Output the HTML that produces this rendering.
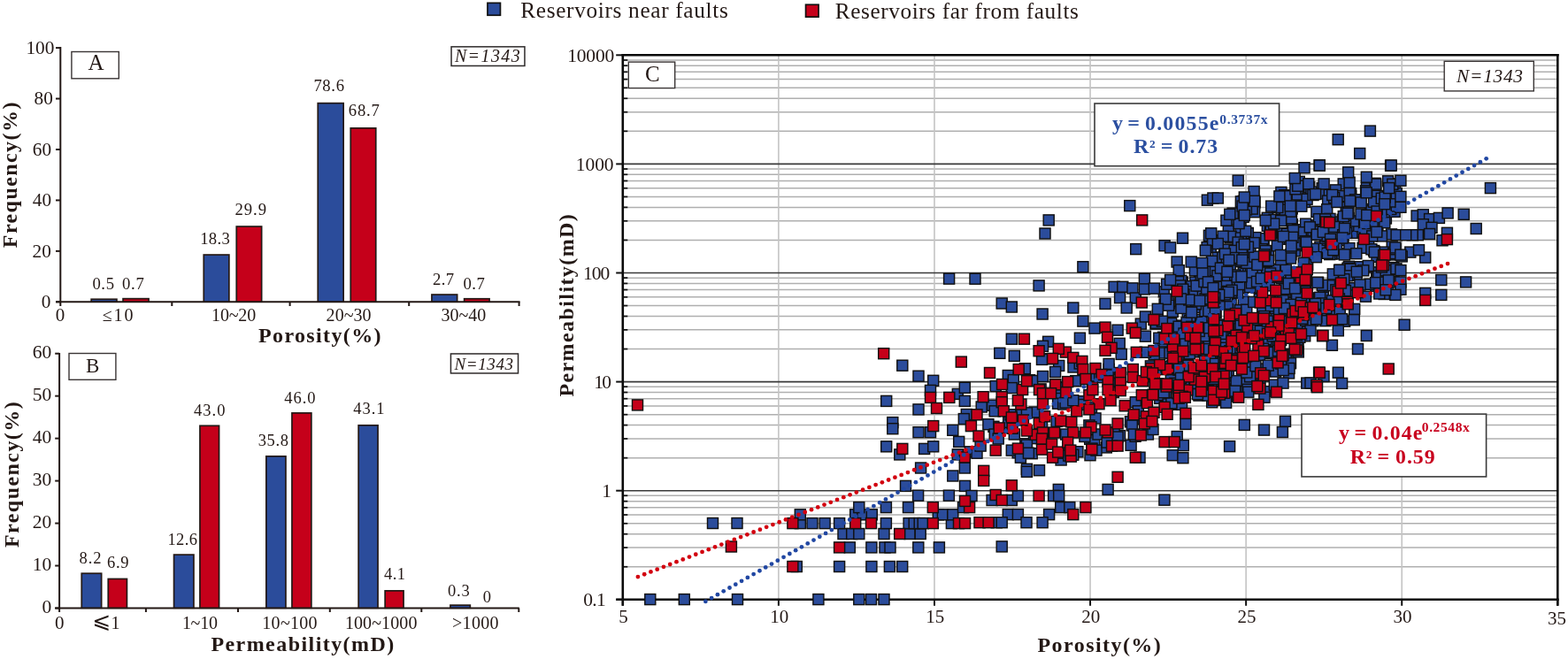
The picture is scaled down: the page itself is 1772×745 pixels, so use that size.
<!DOCTYPE html>
<html><head><meta charset="utf-8"><style>
html,body{margin:0;padding:0;background:#fff;width:1772px;height:745px;overflow:hidden}
svg{display:block}
text{font-family:"Liberation Serif",serif}
</style></head><body>
<svg width="1772" height="745" viewBox="0 0 1772 745">
<rect width="1772" height="745" fill="#fff"/><g fill="#231815">
<rect x="550.95" y="3.35" width="14.50" height="13.90" fill="#2b4c9b" stroke="#111" stroke-width="1.7"/>
<text x="588.30" y="19.75" font-size="25.3" letter-spacing="0.66">Reservoirs near faults</text>
<rect x="910.55" y="5.25" width="14.50" height="13.90" fill="#c5001a" stroke="#111" stroke-width="1.7"/>
<text x="943.80" y="20.50" font-size="25.3" letter-spacing="0.58">Reservoirs far from faults</text>
<line x1="68.30" y1="53.10" x2="68.30" y2="346.00" stroke="#231815" stroke-width="2"/>
<line x1="63.00" y1="341.30" x2="587.60" y2="341.30" stroke="#231815" stroke-width="2"/>
<line x1="63.00" y1="341.30" x2="68.30" y2="341.30" stroke="#231815" stroke-width="2"/>
<text x="46.71" y="348.00" font-size="21.3">0</text>
<line x1="63.00" y1="283.86" x2="68.30" y2="283.86" stroke="#231815" stroke-width="2"/>
<text x="36.59" y="290.56" font-size="21.3">20</text>
<line x1="63.00" y1="226.42" x2="68.30" y2="226.42" stroke="#231815" stroke-width="2"/>
<text x="36.79" y="233.12" font-size="21.3">40</text>
<line x1="63.00" y1="168.98" x2="68.30" y2="168.98" stroke="#231815" stroke-width="2"/>
<text x="36.79" y="175.68" font-size="21.3">60</text>
<line x1="63.00" y1="111.54" x2="68.30" y2="111.54" stroke="#231815" stroke-width="2"/>
<text x="38.49" y="118.24" font-size="21.3">80</text>
<line x1="63.00" y1="54.10" x2="68.30" y2="54.10" stroke="#231815" stroke-width="2"/>
<text x="29.40" y="60.80" font-size="21.3">100</text>
<line x1="194.30" y1="341.30" x2="194.30" y2="346.00" stroke="#231815" stroke-width="2"/>
<line x1="327.60" y1="341.30" x2="327.60" y2="346.00" stroke="#231815" stroke-width="2"/>
<line x1="462.20" y1="341.30" x2="462.20" y2="346.00" stroke="#231815" stroke-width="2"/>
<line x1="586.60" y1="341.30" x2="586.60" y2="346.00" stroke="#231815" stroke-width="2"/>
<text x="62.75" y="363.00" font-size="21">0</text>
<rect x="103.15" y="338.25" width="28.80" height="2.80" fill="#2b4c9b" stroke="#231815" stroke-width="1.7"/>
<rect x="139.05" y="337.65" width="29.00" height="3.40" fill="#c5001a" stroke="#231815" stroke-width="1.7"/>
<rect x="230.25" y="288.05" width="28.60" height="53.00" fill="#2b4c9b" stroke="#231815" stroke-width="1.7"/>
<rect x="267.25" y="256.05" width="28.40" height="85.00" fill="#c5001a" stroke="#231815" stroke-width="1.7"/>
<rect x="359.25" y="116.65" width="28.90" height="224.40" fill="#2b4c9b" stroke="#231815" stroke-width="1.7"/>
<rect x="396.25" y="144.85" width="28.50" height="196.20" fill="#c5001a" stroke="#231815" stroke-width="1.7"/>
<rect x="487.95" y="333.05" width="28.70" height="8.00" fill="#2b4c9b" stroke="#231815" stroke-width="1.7"/>
<rect x="524.65" y="337.75" width="28.40" height="3.30" fill="#c5001a" stroke="#231815" stroke-width="1.7"/>
<text x="104.40" y="327.20" font-size="18.7" letter-spacing="0.61">0.5</text>
<text x="137.90" y="327.20" font-size="18.7" letter-spacing="0.76">0.7</text>
<text x="226.20" y="275.90" font-size="18.7" letter-spacing="0.34">18.3</text>
<text x="265.60" y="242.90" font-size="18.7" letter-spacing="0.90">29.9</text>
<text x="354.40" y="103.10" font-size="18.7" letter-spacing="0.64">78.6</text>
<text x="393.80" y="131.30" font-size="18.7" letter-spacing="0.77">68.7</text>
<text x="488.90" y="322.00" font-size="18.7" letter-spacing="0.46">2.7</text>
<text x="523.60" y="327.40" font-size="18.7" letter-spacing="0.41">0.7</text>
<text x="115.80" y="363.00" font-size="20" letter-spacing="1.85">≤10</text>
<text x="239.10" y="363.00" font-size="20" letter-spacing="-0.18">10~20</text>
<text x="368.60" y="363.00" font-size="20" letter-spacing="0.05">20~30</text>
<text x="498.60" y="363.00" font-size="20" letter-spacing="-0.05">30~40</text>
<text x="292.00" y="386.80" font-size="24" font-weight="bold" letter-spacing="1.37">Porosity(%)</text>
<text x="0" y="0" font-size="24" font-weight="bold" letter-spacing="1.43" transform="translate(18.80,280.20) rotate(-90)">Frequency(%)</text>
<rect x="80.90" y="58.50" width="53.40" height="30.30" fill="#fff" stroke="#3a3535" stroke-width="1.4"/>
<text x="99.50" y="78.80" font-size="25">A</text>
<rect x="510.05" y="52.85" width="82.90" height="21.60" fill="#fff" stroke="#2e2a2a" stroke-width="1.5"/>
<text x="513.89" y="70.10" font-size="20" font-style="italic" letter-spacing="1.40">N=1343</text>
<line x1="67.10" y1="398.90" x2="67.10" y2="692.00" stroke="#231815" stroke-width="2"/>
<line x1="62.20" y1="687.50" x2="586.80" y2="687.50" stroke="#231815" stroke-width="2"/>
<line x1="62.20" y1="687.50" x2="67.10" y2="687.50" stroke="#231815" stroke-width="2"/>
<text x="47.55" y="692.80" font-size="21.5">0</text>
<line x1="62.20" y1="639.53" x2="67.10" y2="639.53" stroke="#231815" stroke-width="2"/>
<text x="36.80" y="644.83" font-size="21.5">10</text>
<line x1="62.20" y1="591.57" x2="67.10" y2="591.57" stroke="#231815" stroke-width="2"/>
<text x="36.80" y="596.87" font-size="21.5">20</text>
<line x1="62.20" y1="543.60" x2="67.10" y2="543.60" stroke="#231815" stroke-width="2"/>
<text x="36.80" y="548.90" font-size="21.5">30</text>
<line x1="62.20" y1="495.63" x2="67.10" y2="495.63" stroke="#231815" stroke-width="2"/>
<text x="36.80" y="500.93" font-size="21.5">40</text>
<line x1="62.20" y1="447.67" x2="67.10" y2="447.67" stroke="#231815" stroke-width="2"/>
<text x="36.80" y="452.97" font-size="21.5">50</text>
<line x1="62.20" y1="399.70" x2="67.10" y2="399.70" stroke="#231815" stroke-width="2"/>
<text x="36.80" y="405.00" font-size="21.5">60</text>
<line x1="164.90" y1="687.50" x2="164.90" y2="692.00" stroke="#231815" stroke-width="2"/>
<line x1="269.00" y1="687.50" x2="269.00" y2="692.00" stroke="#231815" stroke-width="2"/>
<line x1="372.80" y1="687.50" x2="372.80" y2="692.00" stroke="#231815" stroke-width="2"/>
<line x1="476.30" y1="687.50" x2="476.30" y2="692.00" stroke="#231815" stroke-width="2"/>
<line x1="586.30" y1="687.50" x2="586.30" y2="692.00" stroke="#231815" stroke-width="2"/>
<text x="62.05" y="710.60" font-size="21">0</text>
<rect x="92.25" y="648.22" width="22.40" height="39.03" fill="#2b4c9b" stroke="#231815" stroke-width="1.7"/>
<rect x="122.25" y="654.45" width="21.20" height="32.80" fill="#c5001a" stroke="#231815" stroke-width="1.7"/>
<rect x="196.55" y="627.11" width="22.40" height="60.14" fill="#2b4c9b" stroke="#231815" stroke-width="1.7"/>
<rect x="225.95" y="481.29" width="21.60" height="205.96" fill="#c5001a" stroke="#231815" stroke-width="1.7"/>
<rect x="300.85" y="515.83" width="22.10" height="171.42" fill="#2b4c9b" stroke="#231815" stroke-width="1.7"/>
<rect x="329.95" y="466.90" width="21.90" height="220.35" fill="#c5001a" stroke="#231815" stroke-width="1.7"/>
<rect x="405.15" y="480.81" width="21.90" height="206.44" fill="#2b4c9b" stroke="#231815" stroke-width="1.7"/>
<rect x="435.15" y="667.88" width="20.90" height="19.37" fill="#c5001a" stroke="#231815" stroke-width="1.7"/>
<rect x="508.95" y="684.15" width="22.40" height="3.10" fill="#2b4c9b" stroke="#231815" stroke-width="1.7"/>
<text x="89.60" y="637.10" font-size="18.5" letter-spacing="0.94">8.2</text>
<text x="121.00" y="642.00" font-size="18.5" letter-spacing="0.69">6.9</text>
<text x="189.50" y="616.00" font-size="18.5" letter-spacing="0.34">12.6</text>
<text x="218.90" y="470.10" font-size="18.5" letter-spacing="1.04">43.0</text>
<text x="291.70" y="504.10" font-size="18.5" letter-spacing="0.64">35.8</text>
<text x="321.20" y="456.10" font-size="18.5" letter-spacing="1.01">46.0</text>
<text x="399.20" y="468.20" font-size="18.5" letter-spacing="0.98">43.1</text>
<text x="434.00" y="655.00" font-size="18.5" letter-spacing="0.44">4.1</text>
<text x="506.00" y="674.20" font-size="18.5" letter-spacing="0.79">0.3</text>
<text x="545.80" y="681.00" font-size="18.5">0</text>
<text x="205.90" y="710.60" font-size="20" letter-spacing="-0.27">1~10</text>
<text x="296.30" y="710.60" font-size="20" letter-spacing="0.30">10~100</text>
<text x="389.90" y="710.60" font-size="20" letter-spacing="0.10">100~1000</text>
<text x="511.00" y="710.60" font-size="20" letter-spacing="0.31">&gt;1000</text>
<text x="104.4" y="710.0" font-size="25" style="font-family:'DejaVu Sans',sans-serif">⩽</text>
<text x="125.60" y="710.80" font-size="20">1</text>
<text x="238.40" y="736.30" font-size="24" font-weight="bold" letter-spacing="1.44">Permeability(mD)</text>
<text x="0" y="0" font-size="24" font-weight="bold" letter-spacing="1.44" transform="translate(20.70,619.00) rotate(-90)">Frequency(%)</text>
<rect x="78.00" y="399.50" width="52.90" height="29.80" fill="#fff" stroke="#3a3535" stroke-width="1.4"/>
<text x="97.10" y="420.60" font-size="23">B</text>
<rect x="509.45" y="399.95" width="76.10" height="22.00" fill="#fff" stroke="#2e2a2a" stroke-width="1.5"/>
<text x="513.49" y="417.60" font-size="19" font-style="italic" letter-spacing="0.60">N=1343</text>
<line x1="704.80" y1="640.74" x2="1758.80" y2="640.74" stroke="#afafaf" stroke-width="1.5"/>
<line x1="704.80" y1="619.07" x2="1758.80" y2="619.07" stroke="#afafaf" stroke-width="1.5"/>
<line x1="704.80" y1="603.69" x2="1758.80" y2="603.69" stroke="#afafaf" stroke-width="1.5"/>
<line x1="704.80" y1="591.76" x2="1758.80" y2="591.76" stroke="#afafaf" stroke-width="1.5"/>
<line x1="704.80" y1="582.01" x2="1758.80" y2="582.01" stroke="#afafaf" stroke-width="1.5"/>
<line x1="704.80" y1="573.77" x2="1758.80" y2="573.77" stroke="#afafaf" stroke-width="1.5"/>
<line x1="704.80" y1="566.63" x2="1758.80" y2="566.63" stroke="#afafaf" stroke-width="1.5"/>
<line x1="704.80" y1="560.33" x2="1758.80" y2="560.33" stroke="#afafaf" stroke-width="1.5"/>
<line x1="704.80" y1="517.64" x2="1758.80" y2="517.64" stroke="#afafaf" stroke-width="1.5"/>
<line x1="704.80" y1="495.97" x2="1758.80" y2="495.97" stroke="#afafaf" stroke-width="1.5"/>
<line x1="704.80" y1="480.59" x2="1758.80" y2="480.59" stroke="#afafaf" stroke-width="1.5"/>
<line x1="704.80" y1="468.66" x2="1758.80" y2="468.66" stroke="#afafaf" stroke-width="1.5"/>
<line x1="704.80" y1="458.91" x2="1758.80" y2="458.91" stroke="#afafaf" stroke-width="1.5"/>
<line x1="704.80" y1="450.67" x2="1758.80" y2="450.67" stroke="#afafaf" stroke-width="1.5"/>
<line x1="704.80" y1="443.53" x2="1758.80" y2="443.53" stroke="#afafaf" stroke-width="1.5"/>
<line x1="704.80" y1="437.23" x2="1758.80" y2="437.23" stroke="#afafaf" stroke-width="1.5"/>
<line x1="704.80" y1="394.54" x2="1758.80" y2="394.54" stroke="#afafaf" stroke-width="1.5"/>
<line x1="704.80" y1="372.87" x2="1758.80" y2="372.87" stroke="#afafaf" stroke-width="1.5"/>
<line x1="704.80" y1="357.49" x2="1758.80" y2="357.49" stroke="#afafaf" stroke-width="1.5"/>
<line x1="704.80" y1="345.56" x2="1758.80" y2="345.56" stroke="#afafaf" stroke-width="1.5"/>
<line x1="704.80" y1="335.81" x2="1758.80" y2="335.81" stroke="#afafaf" stroke-width="1.5"/>
<line x1="704.80" y1="327.57" x2="1758.80" y2="327.57" stroke="#afafaf" stroke-width="1.5"/>
<line x1="704.80" y1="320.43" x2="1758.80" y2="320.43" stroke="#afafaf" stroke-width="1.5"/>
<line x1="704.80" y1="314.13" x2="1758.80" y2="314.13" stroke="#afafaf" stroke-width="1.5"/>
<line x1="704.80" y1="271.44" x2="1758.80" y2="271.44" stroke="#afafaf" stroke-width="1.5"/>
<line x1="704.80" y1="249.77" x2="1758.80" y2="249.77" stroke="#afafaf" stroke-width="1.5"/>
<line x1="704.80" y1="234.39" x2="1758.80" y2="234.39" stroke="#afafaf" stroke-width="1.5"/>
<line x1="704.80" y1="222.46" x2="1758.80" y2="222.46" stroke="#afafaf" stroke-width="1.5"/>
<line x1="704.80" y1="212.71" x2="1758.80" y2="212.71" stroke="#afafaf" stroke-width="1.5"/>
<line x1="704.80" y1="204.47" x2="1758.80" y2="204.47" stroke="#afafaf" stroke-width="1.5"/>
<line x1="704.80" y1="197.33" x2="1758.80" y2="197.33" stroke="#afafaf" stroke-width="1.5"/>
<line x1="704.80" y1="191.03" x2="1758.80" y2="191.03" stroke="#afafaf" stroke-width="1.5"/>
<line x1="704.80" y1="148.34" x2="1758.80" y2="148.34" stroke="#afafaf" stroke-width="1.5"/>
<line x1="704.80" y1="126.67" x2="1758.80" y2="126.67" stroke="#afafaf" stroke-width="1.5"/>
<line x1="704.80" y1="111.29" x2="1758.80" y2="111.29" stroke="#afafaf" stroke-width="1.5"/>
<line x1="704.80" y1="99.36" x2="1758.80" y2="99.36" stroke="#afafaf" stroke-width="1.5"/>
<line x1="704.80" y1="89.61" x2="1758.80" y2="89.61" stroke="#afafaf" stroke-width="1.5"/>
<line x1="704.80" y1="81.37" x2="1758.80" y2="81.37" stroke="#afafaf" stroke-width="1.5"/>
<line x1="704.80" y1="74.23" x2="1758.80" y2="74.23" stroke="#afafaf" stroke-width="1.5"/>
<line x1="704.80" y1="67.93" x2="1758.80" y2="67.93" stroke="#afafaf" stroke-width="1.5"/>
<line x1="879.88" y1="62.30" x2="879.88" y2="677.80" stroke="#c4c4c4" stroke-width="1.6"/>
<line x1="1055.97" y1="62.30" x2="1055.97" y2="677.80" stroke="#c4c4c4" stroke-width="1.6"/>
<line x1="1232.05" y1="62.30" x2="1232.05" y2="677.80" stroke="#c4c4c4" stroke-width="1.6"/>
<line x1="1408.13" y1="62.30" x2="1408.13" y2="677.80" stroke="#c4c4c4" stroke-width="1.6"/>
<line x1="1584.22" y1="62.30" x2="1584.22" y2="677.80" stroke="#c4c4c4" stroke-width="1.6"/>
<line x1="703.80" y1="554.70" x2="1760.30" y2="554.70" stroke="#3a3a3a" stroke-width="1.6"/>
<line x1="703.80" y1="431.60" x2="1760.30" y2="431.60" stroke="#3a3a3a" stroke-width="1.6"/>
<line x1="703.80" y1="308.50" x2="1760.30" y2="308.50" stroke="#3a3a3a" stroke-width="1.6"/>
<line x1="703.80" y1="185.40" x2="1760.30" y2="185.40" stroke="#3a3a3a" stroke-width="1.6"/>
<line x1="703.80" y1="640.74" x2="709.30" y2="640.74" stroke="#111" stroke-width="1.7"/>
<line x1="703.80" y1="619.07" x2="709.30" y2="619.07" stroke="#111" stroke-width="1.7"/>
<line x1="703.80" y1="603.69" x2="709.30" y2="603.69" stroke="#111" stroke-width="1.7"/>
<line x1="703.80" y1="591.76" x2="709.30" y2="591.76" stroke="#111" stroke-width="1.7"/>
<line x1="703.80" y1="582.01" x2="709.30" y2="582.01" stroke="#111" stroke-width="1.7"/>
<line x1="703.80" y1="573.77" x2="709.30" y2="573.77" stroke="#111" stroke-width="1.7"/>
<line x1="703.80" y1="566.63" x2="709.30" y2="566.63" stroke="#111" stroke-width="1.7"/>
<line x1="703.80" y1="560.33" x2="709.30" y2="560.33" stroke="#111" stroke-width="1.7"/>
<line x1="703.80" y1="517.64" x2="709.30" y2="517.64" stroke="#111" stroke-width="1.7"/>
<line x1="703.80" y1="495.97" x2="709.30" y2="495.97" stroke="#111" stroke-width="1.7"/>
<line x1="703.80" y1="480.59" x2="709.30" y2="480.59" stroke="#111" stroke-width="1.7"/>
<line x1="703.80" y1="468.66" x2="709.30" y2="468.66" stroke="#111" stroke-width="1.7"/>
<line x1="703.80" y1="458.91" x2="709.30" y2="458.91" stroke="#111" stroke-width="1.7"/>
<line x1="703.80" y1="450.67" x2="709.30" y2="450.67" stroke="#111" stroke-width="1.7"/>
<line x1="703.80" y1="443.53" x2="709.30" y2="443.53" stroke="#111" stroke-width="1.7"/>
<line x1="703.80" y1="437.23" x2="709.30" y2="437.23" stroke="#111" stroke-width="1.7"/>
<line x1="703.80" y1="394.54" x2="709.30" y2="394.54" stroke="#111" stroke-width="1.7"/>
<line x1="703.80" y1="372.87" x2="709.30" y2="372.87" stroke="#111" stroke-width="1.7"/>
<line x1="703.80" y1="357.49" x2="709.30" y2="357.49" stroke="#111" stroke-width="1.7"/>
<line x1="703.80" y1="345.56" x2="709.30" y2="345.56" stroke="#111" stroke-width="1.7"/>
<line x1="703.80" y1="335.81" x2="709.30" y2="335.81" stroke="#111" stroke-width="1.7"/>
<line x1="703.80" y1="327.57" x2="709.30" y2="327.57" stroke="#111" stroke-width="1.7"/>
<line x1="703.80" y1="320.43" x2="709.30" y2="320.43" stroke="#111" stroke-width="1.7"/>
<line x1="703.80" y1="314.13" x2="709.30" y2="314.13" stroke="#111" stroke-width="1.7"/>
<line x1="703.80" y1="271.44" x2="709.30" y2="271.44" stroke="#111" stroke-width="1.7"/>
<line x1="703.80" y1="249.77" x2="709.30" y2="249.77" stroke="#111" stroke-width="1.7"/>
<line x1="703.80" y1="234.39" x2="709.30" y2="234.39" stroke="#111" stroke-width="1.7"/>
<line x1="703.80" y1="222.46" x2="709.30" y2="222.46" stroke="#111" stroke-width="1.7"/>
<line x1="703.80" y1="212.71" x2="709.30" y2="212.71" stroke="#111" stroke-width="1.7"/>
<line x1="703.80" y1="204.47" x2="709.30" y2="204.47" stroke="#111" stroke-width="1.7"/>
<line x1="703.80" y1="197.33" x2="709.30" y2="197.33" stroke="#111" stroke-width="1.7"/>
<line x1="703.80" y1="191.03" x2="709.30" y2="191.03" stroke="#111" stroke-width="1.7"/>
<line x1="703.80" y1="148.34" x2="709.30" y2="148.34" stroke="#111" stroke-width="1.7"/>
<line x1="703.80" y1="126.67" x2="709.30" y2="126.67" stroke="#111" stroke-width="1.7"/>
<line x1="703.80" y1="111.29" x2="709.30" y2="111.29" stroke="#111" stroke-width="1.7"/>
<line x1="703.80" y1="99.36" x2="709.30" y2="99.36" stroke="#111" stroke-width="1.7"/>
<line x1="703.80" y1="89.61" x2="709.30" y2="89.61" stroke="#111" stroke-width="1.7"/>
<line x1="703.80" y1="81.37" x2="709.30" y2="81.37" stroke="#111" stroke-width="1.7"/>
<line x1="703.80" y1="74.23" x2="709.30" y2="74.23" stroke="#111" stroke-width="1.7"/>
<line x1="703.80" y1="67.93" x2="709.30" y2="67.93" stroke="#111" stroke-width="1.7"/>
<line x1="703.80" y1="61.00" x2="703.80" y2="684.80" stroke="#0a0a0a" stroke-width="2.6"/>
<line x1="696.20" y1="677.80" x2="1761.60" y2="677.80" stroke="#0a0a0a" stroke-width="2.6"/>
<line x1="702.50" y1="62.30" x2="1761.60" y2="62.30" stroke="#0a0a0a" stroke-width="2.6"/>
<line x1="1760.30" y1="61.00" x2="1760.30" y2="684.80" stroke="#0a0a0a" stroke-width="2.6"/>
<defs><rect id="sb" x="-6.0" y="-6.0" width="12.0" height="12.0" fill="#2b4c9b" stroke="#111" stroke-width="1.45"/><rect id="sr" x="-6.0" y="-6.0" width="12.0" height="12.0" fill="#c5001a" stroke="#111" stroke-width="1.45"/></defs><use href="#sb" x="1426.7" y="346.4"/><use href="#sb" x="1558.8" y="322.1"/><use href="#sb" x="1442.2" y="353.5"/><use href="#sb" x="1351.7" y="334.1"/><use href="#sb" x="1325.4" y="410.9"/><use href="#sb" x="1494.2" y="212.8"/><use href="#sb" x="1483.1" y="360.8"/><use href="#sb" x="1447.9" y="217.4"/><use href="#sb" x="1423.3" y="419.3"/><use href="#sb" x="1445.4" y="367.2"/><use href="#sb" x="1439.9" y="372.9"/><use href="#sb" x="1428.1" y="273.8"/><use href="#sb" x="1388.3" y="261.3"/><use href="#sb" x="1514.6" y="305.3"/><use href="#sb" x="1537.0" y="301.7"/><use href="#sb" x="1554.9" y="323.3"/><use href="#sb" x="1574.5" y="304.5"/><use href="#sb" x="1320.5" y="364.4"/><use href="#sb" x="1518.0" y="271.6"/><use href="#sb" x="1523.2" y="247.8"/><use href="#sb" x="1456.6" y="317.4"/><use href="#sb" x="1353.4" y="390.8"/><use href="#sb" x="1336.7" y="368.1"/><use href="#sb" x="1385.2" y="430.3"/><use href="#sb" x="1359.0" y="303.7"/><use href="#sb" x="1328.1" y="457.2"/><use href="#sb" x="1516.4" y="286.9"/><use href="#sb" x="1325.2" y="352.3"/><use href="#sb" x="1368.0" y="357.1"/><use href="#sb" x="1404.1" y="318.9"/><use href="#sb" x="1568.6" y="326.8"/><use href="#sb" x="1355.0" y="447.1"/><use href="#sb" x="1418.0" y="228.8"/><use href="#sb" x="1310.8" y="450.4"/><use href="#sb" x="1366.8" y="383.8"/><use href="#sb" x="1372.0" y="414.5"/><use href="#sb" x="1467.0" y="277.7"/><use href="#sb" x="1349.1" y="387.9"/><use href="#sb" x="1456.6" y="421.9"/><use href="#sb" x="1472.0" y="274.3"/><use href="#sb" x="1556.9" y="254.6"/><use href="#sb" x="1460.2" y="235.9"/><use href="#sb" x="1401.4" y="431.9"/><use href="#sb" x="1493.5" y="352.8"/><use href="#sb" x="1305.0" y="436.8"/><use href="#sb" x="1306.0" y="366.1"/><use href="#sb" x="1435.0" y="390.5"/><use href="#sb" x="1321.1" y="342.9"/><use href="#sb" x="1398.5" y="378.8"/><use href="#sb" x="1416.8" y="406.0"/><use href="#sb" x="1475.0" y="300.6"/><use href="#sb" x="1463.2" y="359.1"/><use href="#sb" x="1322.5" y="367.0"/><use href="#sb" x="1505.8" y="351.9"/><use href="#sb" x="1423.3" y="418.3"/><use href="#sb" x="1323.5" y="395.6"/><use href="#sb" x="1308.3" y="357.1"/><use href="#sb" x="1434.7" y="261.4"/><use href="#sb" x="1495.5" y="330.3"/><use href="#sb" x="1384.3" y="377.0"/><use href="#sb" x="1423.7" y="432.1"/><use href="#sb" x="1391.5" y="373.8"/><use href="#sb" x="1355.6" y="313.2"/><use href="#sb" x="1546.5" y="301.2"/><use href="#sb" x="1463.3" y="283.7"/><use href="#sb" x="1338.1" y="330.1"/><use href="#sb" x="1426.2" y="273.0"/><use href="#sb" x="1359.9" y="308.8"/><use href="#sb" x="1475.2" y="329.4"/><use href="#sb" x="1388.3" y="418.5"/><use href="#sb" x="1575.0" y="318.7"/><use href="#sb" x="1544.4" y="212.7"/><use href="#sb" x="1498.4" y="349.2"/><use href="#sb" x="1386.5" y="406.2"/><use href="#sb" x="1532.3" y="263.3"/><use href="#sb" x="1476.2" y="317.2"/><use href="#sb" x="1476.4" y="371.0"/><use href="#sb" x="1491.7" y="253.4"/><use href="#sb" x="1433.0" y="248.1"/><use href="#sb" x="1500.0" y="248.2"/><use href="#sb" x="1376.3" y="291.2"/><use href="#sb" x="1495.2" y="336.3"/><use href="#sb" x="1410.2" y="406.3"/><use href="#sb" x="1553.7" y="224.5"/><use href="#sb" x="1336.4" y="319.0"/><use href="#sb" x="1405.5" y="348.8"/><use href="#sb" x="1564.4" y="321.6"/><use href="#sb" x="1482.4" y="254.9"/><use href="#sb" x="1359.7" y="434.2"/><use href="#sb" x="1450.3" y="406.0"/><use href="#sb" x="1389.7" y="436.8"/><use href="#sb" x="1454.1" y="400.2"/><use href="#sb" x="1526.6" y="218.5"/><use href="#sb" x="1524.0" y="246.6"/><use href="#sb" x="1393.8" y="405.3"/><use href="#sb" x="1444.6" y="388.7"/><use href="#sb" x="1564.8" y="329.1"/><use href="#sb" x="1565.8" y="224.2"/><use href="#sb" x="1362.0" y="337.9"/><use href="#sb" x="1381.2" y="390.0"/><use href="#sb" x="1478.9" y="336.9"/><use href="#sb" x="1387.3" y="300.4"/><use href="#sb" x="1358.3" y="421.5"/><use href="#sb" x="1460.4" y="253.8"/><use href="#sb" x="1450.1" y="331.8"/><use href="#sb" x="1469.5" y="209.2"/><use href="#sb" x="1412.2" y="408.7"/><use href="#sb" x="1457.6" y="328.7"/><use href="#sb" x="1493.5" y="219.0"/><use href="#sb" x="1450.8" y="308.8"/><use href="#sb" x="1375.4" y="324.1"/><use href="#sb" x="1433.4" y="283.8"/><use href="#sb" x="1353.6" y="361.4"/><use href="#sb" x="1559.1" y="235.4"/><use href="#sb" x="1518.2" y="207.9"/><use href="#sb" x="1492.4" y="285.1"/><use href="#sb" x="1399.5" y="361.9"/><use href="#sb" x="1329.4" y="390.6"/><use href="#sb" x="1334.4" y="333.7"/><use href="#sb" x="1448.5" y="314.7"/><use href="#sb" x="1405.2" y="308.7"/><use href="#sb" x="1448.2" y="243.2"/><use href="#sb" x="1357.2" y="364.9"/><use href="#sb" x="1478.8" y="338.6"/><use href="#sb" x="1539.9" y="262.0"/><use href="#sb" x="1552.7" y="283.5"/><use href="#sb" x="1388.2" y="440.1"/><use href="#sb" x="1548.5" y="236.6"/><use href="#sb" x="1367.0" y="389.5"/><use href="#sb" x="1533.0" y="310.8"/><use href="#sb" x="1521.2" y="234.5"/><use href="#sb" x="1412.8" y="378.8"/><use href="#sb" x="1571.1" y="231.8"/><use href="#sb" x="1441.6" y="397.6"/><use href="#sb" x="1440.8" y="378.9"/><use href="#sb" x="1454.5" y="334.8"/><use href="#sb" x="1459.2" y="239.8"/><use href="#sb" x="1559.5" y="226.6"/><use href="#sb" x="1317.3" y="447.5"/><use href="#sb" x="1429.4" y="399.3"/><use href="#sb" x="1391.5" y="322.5"/><use href="#sb" x="1444.3" y="313.0"/><use href="#sb" x="1468.3" y="205.4"/><use href="#sb" x="1350.8" y="319.1"/><use href="#sb" x="1476.2" y="306.4"/><use href="#sb" x="1467.9" y="332.1"/><use href="#sb" x="1372.3" y="437.1"/><use href="#sb" x="1528.1" y="306.7"/><use href="#sb" x="1514.3" y="306.7"/><use href="#sb" x="1502.3" y="220.2"/><use href="#sb" x="1395.7" y="323.0"/><use href="#sb" x="1478.8" y="363.0"/><use href="#sb" x="1365.0" y="445.7"/><use href="#sb" x="1486.5" y="289.2"/><use href="#sb" x="1484.7" y="349.0"/><use href="#sb" x="1449.3" y="302.5"/><use href="#sb" x="1574.4" y="207.9"/><use href="#sb" x="1371.9" y="305.6"/><use href="#sb" x="1405.2" y="227.4"/><use href="#sb" x="1370.2" y="435.7"/><use href="#sb" x="1454.0" y="333.0"/><use href="#sb" x="1526.7" y="221.7"/><use href="#sb" x="1467.3" y="397.9"/><use href="#sb" x="1312.6" y="442.0"/><use href="#sb" x="1344.8" y="323.7"/><use href="#sb" x="1347.4" y="329.8"/><use href="#sb" x="1471.1" y="217.1"/><use href="#sb" x="1564.7" y="310.5"/><use href="#sb" x="1447.5" y="356.2"/><use href="#sb" x="1402.4" y="275.7"/><use href="#sb" x="1483.4" y="346.6"/><use href="#sb" x="1379.4" y="386.9"/><use href="#sb" x="1343.8" y="396.7"/><use href="#sb" x="1409.2" y="433.6"/><use href="#sb" x="1509.5" y="214.9"/><use href="#sb" x="1320.6" y="435.6"/><use href="#sb" x="1420.3" y="325.2"/><use href="#sb" x="1572.5" y="264.9"/><use href="#sb" x="1502.4" y="322.8"/><use href="#sb" x="1469.0" y="231.7"/><use href="#sb" x="1474.8" y="319.6"/><use href="#sb" x="1447.9" y="234.1"/><use href="#sb" x="1424.0" y="374.3"/><use href="#sb" x="1427.6" y="269.6"/><use href="#sb" x="1463.0" y="310.2"/><use href="#sb" x="1517.8" y="338.9"/><use href="#sb" x="1505.6" y="263.5"/><use href="#sb" x="1331.9" y="432.3"/><use href="#sb" x="1519.6" y="363.2"/><use href="#sb" x="1400.6" y="272.1"/><use href="#sb" x="1491.8" y="347.7"/><use href="#sb" x="1465.7" y="365.3"/><use href="#sb" x="1510.9" y="251.0"/><use href="#sb" x="1369.7" y="454.8"/><use href="#sb" x="1375.9" y="311.7"/><use href="#sb" x="1474.5" y="228.4"/><use href="#sb" x="1451.7" y="220.7"/><use href="#sb" x="1324.2" y="376.5"/><use href="#sb" x="1454.2" y="364.8"/><use href="#sb" x="1404.5" y="325.5"/><use href="#sb" x="1515.3" y="257.0"/><use href="#sb" x="1418.8" y="268.6"/><use href="#sb" x="1391.1" y="343.5"/><use href="#sb" x="1419.7" y="297.3"/><use href="#sb" x="1327.2" y="427.8"/><use href="#sb" x="1458.0" y="327.1"/><use href="#sb" x="1491.9" y="279.1"/><use href="#sb" x="1517.1" y="221.6"/><use href="#sb" x="1359.7" y="372.8"/><use href="#sb" x="1400.2" y="389.3"/><use href="#sb" x="1402.6" y="232.3"/><use href="#sb" x="1498.6" y="348.9"/><use href="#sb" x="1555.7" y="315.0"/><use href="#sb" x="1524.9" y="280.6"/><use href="#sb" x="1388.9" y="305.1"/><use href="#sb" x="1369.5" y="295.3"/><use href="#sb" x="1402.4" y="295.7"/><use href="#sb" x="1410.8" y="302.0"/><use href="#sb" x="1354.6" y="347.5"/><use href="#sb" x="1523.2" y="341.5"/><use href="#sb" x="1349.4" y="397.8"/><use href="#sb" x="1546.7" y="274.6"/><use href="#sb" x="1452.4" y="348.4"/><use href="#sb" x="1525.2" y="218.5"/><use href="#sb" x="1453.1" y="405.3"/><use href="#sb" x="1323.7" y="365.6"/><use href="#sb" x="1340.3" y="394.4"/><use href="#sb" x="1481.7" y="265.3"/><use href="#sb" x="1361.7" y="399.5"/><use href="#sb" x="1446.0" y="399.3"/><use href="#sb" x="1410.4" y="289.2"/><use href="#sb" x="1438.2" y="340.6"/><use href="#sb" x="1556.2" y="307.9"/><use href="#sb" x="1446.7" y="385.2"/><use href="#sb" x="1524.6" y="310.8"/><use href="#sb" x="1417.7" y="239.7"/><use href="#sb" x="1405.1" y="245.3"/><use href="#sb" x="1357.2" y="311.6"/><use href="#sb" x="1381.8" y="452.2"/><use href="#sb" x="1332.1" y="369.2"/><use href="#sb" x="1517.3" y="248.3"/><use href="#sb" x="1365.9" y="387.0"/><use href="#sb" x="1466.5" y="259.8"/><use href="#sb" x="1348.3" y="397.4"/><use href="#sb" x="1387.3" y="343.4"/><use href="#sb" x="1528.8" y="325.7"/><use href="#sb" x="1372.9" y="431.0"/><use href="#sb" x="1556.0" y="290.3"/><use href="#sb" x="1435.1" y="259.0"/><use href="#sb" x="1313.9" y="446.5"/><use href="#sb" x="1524.4" y="301.3"/><use href="#sb" x="1447.7" y="335.1"/><use href="#sb" x="1484.1" y="263.3"/><use href="#sb" x="1404.0" y="407.6"/><use href="#sb" x="1499.7" y="358.4"/><use href="#sb" x="1390.1" y="268.9"/><use href="#sb" x="1543.4" y="335.2"/><use href="#sb" x="1374.6" y="339.9"/><use href="#sb" x="1342.2" y="400.8"/><use href="#sb" x="1300.4" y="413.9"/><use href="#sb" x="1500.6" y="227.1"/><use href="#sb" x="1434.4" y="322.9"/><use href="#sb" x="1540.1" y="280.3"/><use href="#sb" x="1521.0" y="309.6"/><use href="#sb" x="1556.7" y="225.5"/><use href="#sb" x="1531.4" y="255.8"/><use href="#sb" x="1452.1" y="337.6"/><use href="#sb" x="1344.1" y="416.7"/><use href="#sb" x="1387.2" y="282.2"/><use href="#sb" x="1430.8" y="386.5"/><use href="#sb" x="1400.7" y="379.3"/><use href="#sb" x="1498.8" y="263.3"/><use href="#sb" x="1458.0" y="320.2"/><use href="#sb" x="1523.8" y="255.3"/><use href="#sb" x="1472.5" y="276.9"/><use href="#sb" x="1405.3" y="341.3"/><use href="#sb" x="1383.5" y="289.0"/><use href="#sb" x="1409.8" y="374.0"/><use href="#sb" x="1504.8" y="287.0"/><use href="#sb" x="1502.7" y="287.6"/><use href="#sb" x="1531.5" y="225.8"/><use href="#sb" x="1350.4" y="305.8"/><use href="#sb" x="1557.8" y="312.2"/><use href="#sb" x="1443.2" y="369.0"/><use href="#sb" x="1408.1" y="287.5"/><use href="#sb" x="1412.2" y="382.6"/><use href="#sb" x="1484.9" y="359.0"/><use href="#sb" x="1395.8" y="369.9"/><use href="#sb" x="1442.6" y="405.4"/><use href="#sb" x="1344.3" y="399.8"/><use href="#sb" x="1398.7" y="331.1"/><use href="#sb" x="1339.7" y="386.1"/><use href="#sb" x="1355.2" y="445.8"/><use href="#sb" x="1475.6" y="253.1"/><use href="#sb" x="1461.4" y="381.9"/><use href="#sb" x="1392.2" y="441.7"/><use href="#sb" x="1401.1" y="321.5"/><use href="#sb" x="1334.7" y="453.2"/><use href="#sb" x="1338.0" y="435.2"/><use href="#sb" x="1452.2" y="346.7"/><use href="#sb" x="1456.9" y="270.2"/><use href="#sb" x="1334.3" y="414.8"/><use href="#sb" x="1380.8" y="433.4"/><use href="#sb" x="1367.4" y="350.0"/><use href="#sb" x="1532.6" y="249.9"/><use href="#sb" x="1453.4" y="221.7"/><use href="#sb" x="1484.3" y="281.4"/><use href="#sb" x="1406.9" y="354.7"/><use href="#sb" x="1525.1" y="206.2"/><use href="#sb" x="1355.9" y="322.8"/><use href="#sb" x="1459.5" y="246.8"/><use href="#sb" x="1445.5" y="270.0"/><use href="#sb" x="1459.0" y="287.7"/><use href="#sb" x="1479.7" y="211.8"/><use href="#sb" x="1487.9" y="239.3"/><use href="#sb" x="1431.6" y="308.1"/><use href="#sb" x="1474.7" y="379.8"/><use href="#sb" x="1414.5" y="314.0"/><use href="#sb" x="1447.3" y="337.5"/><use href="#sb" x="1421.0" y="435.3"/><use href="#sb" x="1505.0" y="356.2"/><use href="#sb" x="1510.5" y="280.6"/><use href="#sb" x="1466.2" y="220.0"/><use href="#sb" x="1334.8" y="317.3"/><use href="#sb" x="1440.7" y="304.4"/><use href="#sb" x="1314.6" y="381.3"/><use href="#sb" x="1447.3" y="263.7"/><use href="#sb" x="1385.8" y="304.0"/><use href="#sb" x="1418.0" y="409.8"/><use href="#sb" x="1362.1" y="394.6"/><use href="#sb" x="1327.6" y="406.4"/><use href="#sb" x="1334.7" y="340.7"/><use href="#sb" x="1368.3" y="279.2"/><use href="#sb" x="1411.2" y="294.0"/><use href="#sb" x="1463.9" y="213.8"/><use href="#sb" x="1308.7" y="433.8"/><use href="#sb" x="1386.2" y="330.6"/><use href="#sb" x="1432.3" y="255.3"/><use href="#sb" x="1382.7" y="440.0"/><use href="#sb" x="1551.1" y="252.4"/><use href="#sb" x="1432.3" y="246.3"/><use href="#sb" x="1356.6" y="365.2"/><use href="#sb" x="1353.6" y="429.1"/><use href="#sb" x="1503.2" y="282.8"/><use href="#sb" x="1499.7" y="236.8"/><use href="#sb" x="1499.0" y="252.7"/><use href="#sb" x="1404.3" y="372.8"/><use href="#sb" x="1364.1" y="279.6"/><use href="#sb" x="1377.5" y="367.1"/><use href="#sb" x="1325.2" y="455.6"/><use href="#sb" x="1423.3" y="338.3"/><use href="#sb" x="1467.9" y="275.4"/><use href="#sb" x="1370.3" y="409.2"/><use href="#sb" x="1511.6" y="265.4"/><use href="#sb" x="1378.1" y="343.4"/><use href="#sb" x="1352.2" y="433.4"/><use href="#sb" x="1576.6" y="210.7"/><use href="#sb" x="1429.3" y="395.7"/><use href="#sb" x="1407.7" y="441.8"/><use href="#sb" x="1440.0" y="248.4"/><use href="#sb" x="1455.7" y="368.4"/><use href="#sb" x="1400.7" y="371.8"/><use href="#sb" x="1519.2" y="335.3"/><use href="#sb" x="1441.6" y="420.1"/><use href="#sb" x="1491.6" y="336.3"/><use href="#sb" x="1566.4" y="246.9"/><use href="#sb" x="1518.3" y="244.6"/><use href="#sb" x="1470.3" y="262.7"/><use href="#sb" x="1423.3" y="401.4"/><use href="#sb" x="1366.1" y="328.2"/><use href="#sb" x="1361.9" y="351.7"/><use href="#sb" x="1467.1" y="386.4"/><use href="#sb" x="1421.7" y="316.0"/><use href="#sb" x="1373.6" y="408.0"/><use href="#sb" x="1320.3" y="436.1"/><use href="#sb" x="1459.3" y="342.2"/><use href="#sb" x="1521.7" y="263.4"/><use href="#sb" x="1473.9" y="337.6"/><use href="#sb" x="1374.1" y="353.9"/><use href="#sb" x="1324.8" y="413.7"/><use href="#sb" x="1344.7" y="380.2"/><use href="#sb" x="1402.0" y="257.8"/><use href="#sb" x="1571.8" y="212.9"/><use href="#sb" x="1437.1" y="398.4"/><use href="#sb" x="1576.1" y="239.3"/><use href="#sb" x="1427.5" y="394.2"/><use href="#sb" x="1549.2" y="238.5"/><use href="#sb" x="1410.0" y="278.9"/><use href="#sb" x="1454.5" y="264.4"/><use href="#sb" x="1429.2" y="442.6"/><use href="#sb" x="1401.9" y="289.0"/><use href="#sb" x="1481.9" y="217.1"/><use href="#sb" x="1396.1" y="381.2"/><use href="#sb" x="1548.2" y="321.3"/><use href="#sb" x="1410.0" y="419.5"/><use href="#sb" x="1406.7" y="403.6"/><use href="#sb" x="1351.4" y="343.8"/><use href="#sb" x="1360.0" y="322.7"/><use href="#sb" x="1386.4" y="317.4"/><use href="#sb" x="1541.6" y="254.8"/><use href="#sb" x="1410.0" y="440.3"/><use href="#sb" x="1500.3" y="271.3"/><use href="#sb" x="1401.1" y="241.6"/><use href="#sb" x="1562.3" y="294.8"/><use href="#sb" x="1554.0" y="207.3"/><use href="#sb" x="1390.2" y="301.2"/><use href="#sb" x="1323.3" y="429.7"/><use href="#sb" x="1391.1" y="400.8"/><use href="#sb" x="1410.3" y="263.5"/><use href="#sb" x="1466.7" y="210.2"/><use href="#sb" x="1387.4" y="311.4"/><use href="#sb" x="1452.3" y="237.1"/><use href="#sb" x="1497.8" y="269.2"/><use href="#sb" x="1378.5" y="385.9"/><use href="#sb" x="1413.5" y="301.7"/><use href="#sb" x="1542.5" y="260.3"/><use href="#sb" x="1381.8" y="291.0"/><use href="#sb" x="1306.9" y="364.6"/><use href="#sb" x="1458.5" y="410.7"/><use href="#sb" x="1573.2" y="278.9"/><use href="#sb" x="1360.5" y="379.8"/><use href="#sb" x="1543.1" y="262.5"/><use href="#sb" x="1477.1" y="225.2"/><use href="#sb" x="1419.8" y="303.2"/><use href="#sb" x="1391.9" y="330.3"/><use href="#sb" x="1412.7" y="324.6"/><use href="#sb" x="1346.7" y="373.6"/><use href="#sb" x="1395.7" y="311.0"/><use href="#sb" x="1342.2" y="352.3"/><use href="#sb" x="1496.4" y="344.7"/><use href="#sb" x="1496.1" y="207.9"/><use href="#sb" x="1409.6" y="296.0"/><use href="#sb" x="1315.3" y="329.9"/><use href="#sb" x="1464.0" y="323.0"/><use href="#sb" x="1391.1" y="267.4"/><use href="#sb" x="1373.3" y="374.4"/><use href="#sb" x="1352.1" y="323.1"/><use href="#sb" x="1401.5" y="350.7"/><use href="#sb" x="1475.7" y="362.2"/><use href="#sb" x="1415.1" y="309.2"/><use href="#sb" x="1377.3" y="416.0"/><use href="#sb" x="1546.3" y="300.5"/><use href="#sb" x="1554.7" y="211.8"/><use href="#sb" x="1338.0" y="332.8"/><use href="#sb" x="1386.4" y="295.0"/><use href="#sb" x="1490.4" y="262.5"/><use href="#sb" x="1410.3" y="263.7"/><use href="#sb" x="1438.2" y="369.7"/><use href="#sb" x="1453.5" y="363.1"/><use href="#sb" x="1457.0" y="416.4"/><use href="#sb" x="1571.3" y="288.0"/><use href="#sb" x="1397.1" y="430.7"/><use href="#sb" x="1387.7" y="386.7"/><use href="#sb" x="1344.7" y="362.4"/><use href="#sb" x="1437.4" y="347.5"/><use href="#sb" x="1403.5" y="275.7"/><use href="#sb" x="1509.7" y="339.8"/><use href="#sb" x="1366.4" y="266.3"/><use href="#sb" x="1391.0" y="247.9"/><use href="#sb" x="1443.8" y="234.5"/><use href="#sb" x="1328.6" y="383.8"/><use href="#sb" x="1331.6" y="318.5"/><use href="#sb" x="1516.2" y="326.0"/><use href="#sb" x="1345.5" y="425.5"/><use href="#sb" x="1543.6" y="215.8"/><use href="#sb" x="1371.1" y="332.9"/><use href="#sb" x="1523.0" y="303.2"/><use href="#sb" x="1500.5" y="267.0"/><use href="#sb" x="1500.4" y="286.3"/><use href="#sb" x="1393.5" y="397.9"/><use href="#sb" x="1458.9" y="310.5"/><use href="#sb" x="1497.9" y="362.7"/><use href="#sb" x="1487.4" y="261.6"/><use href="#sb" x="1571.7" y="236.5"/><use href="#sb" x="1476.8" y="304.4"/><use href="#sb" x="1313.6" y="386.0"/><use href="#sb" x="1380.1" y="390.7"/><use href="#sb" x="1578.2" y="233.0"/><use href="#sb" x="1451.9" y="326.6"/><use href="#sb" x="1404.6" y="281.8"/><use href="#sb" x="1379.4" y="303.1"/><use href="#sb" x="1574.7" y="302.5"/><use href="#sb" x="1494.3" y="342.9"/><use href="#sb" x="1524.0" y="239.9"/><use href="#sb" x="1561.4" y="266.9"/><use href="#sb" x="1436.7" y="233.1"/><use href="#sb" x="1458.5" y="239.1"/><use href="#sb" x="1475.1" y="272.7"/><use href="#sb" x="1363.7" y="326.4"/><use href="#sb" x="1402.4" y="269.0"/><use href="#sb" x="1549.9" y="281.8"/><use href="#sb" x="1356.6" y="425.8"/><use href="#sb" x="1435.6" y="309.0"/><use href="#sb" x="1526.0" y="304.2"/><use href="#sb" x="1316.1" y="344.0"/><use href="#sb" x="1483.9" y="362.7"/><use href="#sb" x="1377.6" y="444.2"/><use href="#sb" x="1424.1" y="417.1"/><use href="#sb" x="1503.0" y="247.4"/><use href="#sb" x="1400.5" y="396.4"/><use href="#sb" x="1386.8" y="334.7"/><use href="#sb" x="1568.6" y="204.8"/><use href="#sb" x="1447.6" y="411.0"/><use href="#sb" x="1411.8" y="409.2"/><use href="#sb" x="1576.1" y="228.0"/><use href="#sb" x="1566.1" y="305.8"/><use href="#sb" x="1497.5" y="266.6"/><use href="#sb" x="1554.7" y="208.1"/><use href="#sb" x="1461.5" y="260.6"/><use href="#sb" x="1408.8" y="297.3"/><use href="#sb" x="1402.1" y="366.6"/><use href="#sb" x="1399.1" y="274.0"/><use href="#sb" x="1553.4" y="285.0"/><use href="#sb" x="1507.7" y="256.5"/><use href="#sb" x="1508.1" y="342.9"/><use href="#sb" x="1490.5" y="247.7"/><use href="#sb" x="1398.1" y="313.1"/><use href="#sb" x="1412.9" y="284.9"/><use href="#sb" x="1357.3" y="429.2"/><use href="#sb" x="1389.9" y="396.6"/><use href="#sb" x="1330.3" y="456.8"/><use href="#sb" x="1361.5" y="307.3"/><use href="#sb" x="1497.7" y="247.9"/><use href="#sb" x="1376.5" y="376.7"/><use href="#sb" x="1565.4" y="285.1"/><use href="#sb" x="1477.7" y="299.6"/><use href="#sb" x="1480.3" y="256.8"/><use href="#sb" x="1441.4" y="348.5"/><use href="#sb" x="1332.0" y="418.1"/><use href="#sb" x="1407.7" y="261.3"/><use href="#sb" x="1468.2" y="349.8"/><use href="#sb" x="1475.7" y="317.3"/><use href="#sb" x="1466.1" y="355.4"/><use href="#sb" x="1560.9" y="241.2"/><use href="#sb" x="1506.6" y="282.7"/><use href="#sb" x="1412.6" y="425.8"/><use href="#sb" x="1335.5" y="457.4"/><use href="#sb" x="1437.5" y="262.4"/><use href="#sb" x="1523.3" y="334.0"/><use href="#sb" x="1578.2" y="218.7"/><use href="#sb" x="1370.2" y="410.2"/><use href="#sb" x="1427.1" y="340.4"/><use href="#sb" x="1542.4" y="252.6"/><use href="#sb" x="1378.3" y="368.1"/><use href="#sb" x="1320.6" y="345.2"/><use href="#sb" x="1520.4" y="328.6"/><use href="#sb" x="1367.7" y="408.4"/><use href="#sb" x="1523.1" y="241.2"/><use href="#sb" x="1402.4" y="227.9"/><use href="#sb" x="1408.8" y="421.1"/><use href="#sb" x="1320.1" y="456.9"/><use href="#sb" x="1357.9" y="364.3"/><use href="#sb" x="1355.2" y="374.4"/><use href="#sb" x="1395.1" y="283.4"/><use href="#sb" x="1476.3" y="273.9"/><use href="#sb" x="1468.9" y="381.3"/><use href="#sb" x="1494.3" y="322.3"/><use href="#sb" x="1400.1" y="252.6"/><use href="#sb" x="1386.9" y="307.3"/><use href="#sb" x="1341.0" y="364.9"/><use href="#sb" x="1418.9" y="413.6"/><use href="#sb" x="1414.5" y="319.9"/><use href="#sb" x="1397.0" y="383.5"/><use href="#sb" x="1365.8" y="351.5"/><use href="#sb" x="1379.8" y="427.1"/><use href="#sb" x="1380.2" y="422.5"/><use href="#sb" x="1489.5" y="319.4"/><use href="#sb" x="1561.4" y="302.0"/><use href="#sb" x="1508.1" y="357.1"/><use href="#sb" x="1417.3" y="274.6"/><use href="#sb" x="1382.0" y="381.3"/><use href="#sb" x="1488.2" y="265.1"/><use href="#sb" x="1415.2" y="236.1"/><use href="#sb" x="1550.7" y="266.9"/><use href="#sb" x="1417.8" y="290.1"/><use href="#sb" x="1465.4" y="342.8"/><use href="#sb" x="1327.8" y="433.3"/><use href="#sb" x="1404.9" y="388.6"/><use href="#sb" x="1487.4" y="290.7"/><use href="#sb" x="1306.5" y="365.3"/><use href="#sb" x="1431.4" y="295.3"/><use href="#sb" x="1430.2" y="283.5"/><use href="#sb" x="1487.8" y="358.2"/><use href="#sb" x="1577.9" y="303.9"/><use href="#sb" x="1318.6" y="321.3"/><use href="#sb" x="1412.4" y="371.3"/><use href="#sb" x="1358.6" y="297.4"/><use href="#sb" x="1507.7" y="223.6"/><use href="#sb" x="1346.7" y="369.4"/><use href="#sb" x="1371.0" y="411.3"/><use href="#sb" x="1333.5" y="322.9"/><use href="#sb" x="1304.4" y="423.8"/><use href="#sb" x="1450.0" y="339.7"/><use href="#sb" x="1331.1" y="405.6"/><use href="#sb" x="1384.4" y="332.9"/><use href="#sb" x="1334.9" y="348.5"/><use href="#sb" x="1443.4" y="277.8"/><use href="#sb" x="1517.7" y="265.7"/><use href="#sb" x="1360.9" y="318.5"/><use href="#sb" x="1456.3" y="320.5"/><use href="#sb" x="1538.2" y="228.9"/><use href="#sb" x="1538.0" y="242.0"/><use href="#sb" x="1413.8" y="359.9"/><use href="#sb" x="1343.0" y="413.2"/><use href="#sb" x="1343.8" y="339.0"/><use href="#sb" x="1384.2" y="451.3"/><use href="#sb" x="1331.3" y="439.1"/><use href="#sb" x="1392.1" y="328.2"/><use href="#sb" x="1440.3" y="435.2"/><use href="#sb" x="1410.4" y="279.2"/><use href="#sb" x="1507.0" y="268.6"/><use href="#sb" x="1403.0" y="312.7"/><use href="#sb" x="1433.5" y="294.5"/><use href="#sb" x="1420.5" y="318.3"/><use href="#sb" x="1313.9" y="417.6"/><use href="#sb" x="1317.3" y="338.2"/><use href="#sb" x="1453.3" y="305.1"/><use href="#sb" x="1404.1" y="283.1"/><use href="#sb" x="1435.5" y="261.4"/><use href="#sb" x="1509.8" y="327.8"/><use href="#sb" x="1402.4" y="356.3"/><use href="#sb" x="1403.3" y="279.7"/><use href="#sb" x="1470.6" y="354.1"/><use href="#sb" x="1388.2" y="330.4"/><use href="#sb" x="1444.5" y="396.5"/><use href="#sb" x="1370.6" y="271.7"/><use href="#sb" x="1522.8" y="311.8"/><use href="#sb" x="1540.8" y="305.8"/><use href="#sb" x="1380.0" y="377.4"/><use href="#sb" x="1323.9" y="455.9"/><use href="#sb" x="1532.8" y="286.7"/><use href="#sb" x="1388.9" y="413.4"/><use href="#sb" x="1315.9" y="399.0"/><use href="#sb" x="1313.4" y="363.2"/><use href="#sb" x="1478.8" y="207.8"/><use href="#sb" x="1506.3" y="309.9"/><use href="#sb" x="1556.7" y="221.3"/><use href="#sb" x="1518.8" y="315.7"/><use href="#sb" x="1425.3" y="314.7"/><use href="#sb" x="1505.7" y="220.4"/><use href="#sb" x="1332.4" y="417.2"/><use href="#sb" x="1486.5" y="343.4"/><use href="#sb" x="1386.8" y="448.1"/><use href="#sb" x="1359.1" y="309.0"/><use href="#sb" x="1450.2" y="418.5"/><use href="#sb" x="1334.5" y="427.4"/><use href="#sb" x="1420.9" y="299.4"/><use href="#sb" x="1438.2" y="379.9"/><use href="#sb" x="1408.6" y="402.9"/><use href="#sb" x="1329.5" y="393.5"/><use href="#sb" x="1346.6" y="353.1"/><use href="#sb" x="1465.6" y="336.2"/><use href="#sb" x="1408.8" y="350.2"/><use href="#sb" x="1463.5" y="326.0"/><use href="#sb" x="1574.6" y="286.6"/><use href="#sb" x="1495.3" y="262.3"/><use href="#sb" x="1373.2" y="390.4"/><use href="#sb" x="1461.0" y="268.3"/><use href="#sb" x="1318.0" y="414.8"/><use href="#sb" x="1405.7" y="386.9"/><use href="#sb" x="1421.2" y="361.3"/><use href="#sb" x="1554.7" y="319.6"/><use href="#sb" x="1436.3" y="261.7"/><use href="#sb" x="1510.9" y="228.4"/><use href="#sb" x="1385.8" y="420.6"/><use href="#sb" x="1309.8" y="382.2"/><use href="#sb" x="1459.1" y="344.3"/><use href="#sb" x="1393.2" y="241.1"/><use href="#sb" x="1525.6" y="227.2"/><use href="#sb" x="1519.5" y="258.4"/><use href="#sb" x="1355.8" y="340.0"/><use href="#sb" x="1470.8" y="233.2"/><use href="#sb" x="1514.2" y="352.3"/><use href="#sb" x="1381.4" y="423.3"/><use href="#sb" x="1503.5" y="270.3"/><use href="#sb" x="1450.4" y="267.4"/><use href="#sb" x="1382.1" y="267.2"/><use href="#sb" x="1336.8" y="327.1"/><use href="#sb" x="1376.3" y="275.5"/><use href="#sb" x="1377.7" y="333.4"/><use href="#sb" x="1544.7" y="243.3"/><use href="#sb" x="1470.6" y="342.3"/><use href="#sb" x="1505.5" y="339.9"/><use href="#sb" x="1517.1" y="269.0"/><use href="#sb" x="1315.2" y="443.7"/><use href="#sb" x="1401.6" y="405.1"/><use href="#sb" x="1365.4" y="318.8"/><use href="#sb" x="1403.7" y="390.1"/><use href="#sb" x="1564.2" y="332.5"/><use href="#sb" x="1458.5" y="292.0"/><use href="#sb" x="1365.0" y="447.1"/><use href="#sb" x="1330.9" y="444.6"/><use href="#sb" x="1484.0" y="220.5"/><use href="#sb" x="1552.5" y="228.3"/><use href="#sb" x="1458.3" y="232.9"/><use href="#sb" x="1576.9" y="281.8"/><use href="#sb" x="1544.2" y="217.8"/><use href="#sb" x="1486.6" y="219.5"/><use href="#sb" x="1308.3" y="349.3"/><use href="#sb" x="1445.9" y="221.9"/><use href="#sb" x="1447.6" y="249.6"/><use href="#sb" x="1447.5" y="293.4"/><use href="#sb" x="1439.7" y="253.0"/><use href="#sb" x="1436.3" y="345.9"/><use href="#sb" x="1394.0" y="383.1"/><use href="#sb" x="1465.4" y="378.9"/><use href="#sb" x="1471.6" y="360.2"/><use href="#sb" x="1561.3" y="224.3"/><use href="#sb" x="1445.5" y="351.7"/><use href="#sb" x="1533.3" y="307.2"/><use href="#sb" x="1394.0" y="291.5"/><use href="#sb" x="1304.2" y="400.7"/><use href="#sb" x="1373.4" y="353.1"/><use href="#sb" x="1447.3" y="288.5"/><use href="#sb" x="1489.0" y="319.4"/><use href="#sb" x="1365.6" y="429.5"/><use href="#sb" x="1371.0" y="325.6"/><use href="#sb" x="1519.4" y="287.9"/><use href="#sb" x="1366.7" y="370.8"/><use href="#sb" x="1372.9" y="336.9"/><use href="#sb" x="1371.4" y="428.3"/><use href="#sb" x="1384.4" y="287.0"/><use href="#sb" x="1521.3" y="341.3"/><use href="#sb" x="1322.0" y="399.0"/><use href="#sb" x="1403.8" y="294.0"/><use href="#sb" x="1408.4" y="237.0"/><use href="#sb" x="1394.7" y="405.9"/><use href="#sb" x="1406.3" y="276.1"/><use href="#sb" x="1466.1" y="393.3"/><use href="#sb" x="1433.2" y="413.1"/><use href="#sb" x="1556.1" y="239.0"/><use href="#sb" x="1357.6" y="428.6"/><use href="#sb" x="1395.7" y="442.1"/><use href="#sb" x="1339.7" y="386.3"/><use href="#sb" x="1564.8" y="251.7"/><use href="#sb" x="1338.0" y="377.0"/><use href="#sb" x="1565.8" y="319.1"/><use href="#sb" x="1404.2" y="233.0"/><use href="#sb" x="1376.4" y="444.2"/><use href="#sb" x="1385.9" y="249.2"/><use href="#sb" x="1334.4" y="337.9"/><use href="#sb" x="1451.3" y="348.5"/><use href="#sb" x="1513.4" y="337.9"/><use href="#sb" x="1565.2" y="223.0"/><use href="#sb" x="1386.6" y="398.3"/><use href="#sb" x="1558.8" y="332.0"/><use href="#sb" x="1459.2" y="278.0"/><use href="#sb" x="1428.7" y="357.6"/><use href="#sb" x="1536.9" y="322.0"/><use href="#sb" x="1353.4" y="445.6"/><use href="#sb" x="1573.8" y="208.3"/><use href="#sb" x="1513.6" y="305.3"/><use href="#sb" x="1348.4" y="392.0"/><use href="#sb" x="1361.5" y="408.2"/><use href="#sb" x="1439.8" y="370.4"/><use href="#sb" x="1430.2" y="249.1"/><use href="#sb" x="1473.3" y="297.3"/><use href="#sb" x="1432.4" y="363.0"/><use href="#sb" x="1388.8" y="294.0"/><use href="#sb" x="1416.7" y="341.4"/><use href="#sb" x="1428.9" y="287.8"/><use href="#sb" x="1555.8" y="262.2"/><use href="#sb" x="1278.1" y="503.3"/><use href="#sb" x="1199.1" y="520.0"/><use href="#sb" x="1158.4" y="416.7"/><use href="#sb" x="1238.8" y="424.9"/><use href="#sb" x="1213.0" y="415.0"/><use href="#sb" x="1122.9" y="482.3"/><use href="#sb" x="1169.2" y="466.0"/><use href="#sb" x="1197.0" y="512.2"/><use href="#sb" x="1200.1" y="443.1"/><use href="#sb" x="1154.8" y="467.9"/><use href="#sb" x="1221.9" y="453.7"/><use href="#sb" x="1121.6" y="458.2"/><use href="#sb" x="1194.1" y="476.4"/><use href="#sb" x="1186.9" y="405.7"/><use href="#sb" x="1253.0" y="424.8"/><use href="#sb" x="1258.4" y="496.3"/><use href="#sb" x="1152.1" y="509.7"/><use href="#sb" x="1198.2" y="449.1"/><use href="#sb" x="1207.7" y="515.1"/><use href="#sb" x="1195.6" y="456.2"/><use href="#sb" x="1158.8" y="501.8"/><use href="#sb" x="1198.1" y="438.5"/><use href="#sb" x="1259.3" y="497.0"/><use href="#sb" x="1231.7" y="496.3"/><use href="#sb" x="1236.7" y="497.8"/><use href="#sb" x="1253.2" y="417.4"/><use href="#sb" x="1255.7" y="433.5"/><use href="#sb" x="1150.2" y="511.8"/><use href="#sb" x="1109.2" y="460.0"/><use href="#sb" x="1168.5" y="495.6"/><use href="#sb" x="1217.9" y="510.7"/><use href="#sb" x="1277.5" y="476.8"/><use href="#sb" x="1116.9" y="479.7"/><use href="#sb" x="1266.2" y="434.5"/><use href="#sb" x="1139.4" y="483.2"/><use href="#sb" x="1220.2" y="410.9"/><use href="#sb" x="1265.5" y="492.6"/><use href="#sb" x="1250.3" y="505.9"/><use href="#sb" x="1210.3" y="514.8"/><use href="#sb" x="1223.2" y="457.5"/><use href="#sb" x="1176.1" y="439.9"/><use href="#sb" x="1252.2" y="424.0"/><use href="#sb" x="1225.9" y="493.5"/><use href="#sb" x="1233.5" y="460.5"/><use href="#sb" x="1163.5" y="429.7"/><use href="#sb" x="1139.7" y="477.3"/><use href="#sb" x="1232.0" y="514.7"/><use href="#sb" x="1166.2" y="512.7"/><use href="#sb" x="1281.1" y="473.7"/><use href="#sb" x="1283.1" y="493.3"/><use href="#sb" x="1166.7" y="430.5"/><use href="#sb" x="1201.7" y="457.0"/><use href="#sb" x="1204.1" y="455.1"/><use href="#sb" x="1242.7" y="426.7"/><use href="#sb" x="1141.9" y="468.8"/><use href="#sb" x="805.5" y="591.5"/><use href="#sb" x="833.0" y="591.5"/><use href="#sb" x="734.8" y="677.6"/><use href="#sb" x="773.3" y="677.6"/><use href="#sb" x="833.5" y="677.6"/><use href="#sb" x="924.9" y="677.6"/><use href="#sb" x="970.8" y="677.6"/><use href="#sb" x="984.5" y="677.6"/><use href="#sb" x="999.0" y="677.6"/><use href="#sb" x="900.3" y="640.5"/><use href="#sb" x="948.6" y="640.5"/><use href="#sb" x="984.9" y="640.5"/><use href="#sb" x="1005.4" y="640.5"/><use href="#sb" x="1019.7" y="640.5"/><use href="#sb" x="960.3" y="618.9"/><use href="#sb" x="984.9" y="618.9"/><use href="#sb" x="1000.0" y="618.9"/><use href="#sb" x="1006.0" y="618.9"/><use href="#sb" x="1037.8" y="618.9"/><use href="#sb" x="1061.4" y="618.9"/><use href="#sb" x="953.0" y="603.5"/><use href="#sb" x="962.7" y="603.5"/><use href="#sb" x="970.8" y="603.5"/><use href="#sb" x="999.0" y="603.5"/><use href="#sb" x="1028.1" y="603.5"/><use href="#sb" x="1040.2" y="603.5"/><use href="#sb" x="904.3" y="591.6"/><use href="#sb" x="918.0" y="591.6"/><use href="#sb" x="932.1" y="591.6"/><use href="#sb" x="948.6" y="591.6"/><use href="#sb" x="1001.4" y="591.6"/><use href="#sb" x="1027.1" y="591.6"/><use href="#sb" x="1033.2" y="591.6"/><use href="#sb" x="1039.2" y="591.6"/><use href="#sb" x="1043.2" y="591.6"/><use href="#sb" x="1075.4" y="591.6"/><use href="#sb" x="904.3" y="581.8"/><use href="#sb" x="966.7" y="581.8"/><use href="#sb" x="974.8" y="581.8"/><use href="#sb" x="985.3" y="581.8"/><use href="#sb" x="1060.3" y="581.8"/><use href="#sb" x="1065.4" y="581.8"/><use href="#sb" x="1076.8" y="581.8"/><use href="#sb" x="970.8" y="573.6"/><use href="#sb" x="1001.4" y="573.6"/><use href="#sb" x="1026.5" y="573.6"/><use href="#sb" x="1088.5" y="573.6"/><use href="#sb" x="1037.6" y="560.2"/><use href="#sb" x="1072.4" y="560.2"/><use href="#sb" x="1023.5" y="549.4"/><use href="#sb" x="1090.5" y="549.4"/><use href="#sb" x="1019.8" y="413.2"/><use href="#sb" x="1038.0" y="425.2"/><use href="#sb" x="1054.7" y="430.3"/><use href="#sb" x="1051.5" y="441.4"/><use href="#sb" x="1082.3" y="445.4"/><use href="#sb" x="1090.3" y="438.3"/><use href="#sb" x="1090.3" y="453.4"/><use href="#sb" x="1001.7" y="453.4"/><use href="#sb" x="1038.0" y="462.9"/><use href="#sb" x="1008.8" y="477.6"/><use href="#sb" x="1008.8" y="484.7"/><use href="#sb" x="1092.3" y="468.5"/><use href="#sb" x="1089.3" y="473.6"/><use href="#sb" x="1051.5" y="488.7"/><use href="#sb" x="1038.0" y="488.7"/><use href="#sb" x="1076.8" y="486.3"/><use href="#sb" x="1083.7" y="499.4"/><use href="#sb" x="1001.7" y="504.8"/><use href="#sb" x="1016.8" y="513.9"/><use href="#sb" x="1044.6" y="507.4"/><use href="#sb" x="1054.7" y="504.8"/><use href="#sb" x="1082.3" y="513.9"/><use href="#sb" x="1096.4" y="510.8"/><use href="#sb" x="1040.6" y="529.0"/><use href="#sb" x="1090.3" y="529.0"/><use href="#sb" x="1076.8" y="538.0"/><use href="#sb" x="1072.6" y="315.1"/><use href="#sb" x="1102.0" y="315.2"/><use href="#sb" x="1276.8" y="232.6"/><use href="#sb" x="1185.2" y="248.9"/><use href="#sb" x="1181.0" y="264.0"/><use href="#sb" x="1283.7" y="281.6"/><use href="#sb" x="1223.9" y="301.7"/><use href="#sb" x="1174.1" y="322.9"/><use href="#sb" x="1132.2" y="343.0"/><use href="#sb" x="1143.3" y="347.0"/><use href="#sb" x="1212.8" y="348.0"/><use href="#sb" x="1249.0" y="343.4"/><use href="#sb" x="1259.1" y="324.3"/><use href="#sb" x="1268.8" y="324.3"/><use href="#sb" x="1279.9" y="325.9"/><use href="#sb" x="1293.4" y="315.2"/><use href="#sb" x="1265.6" y="336.6"/><use href="#sb" x="1283.3" y="337.0"/><use href="#sb" x="1293.4" y="326.9"/><use href="#sb" x="1273.2" y="348.0"/><use href="#sb" x="1178.1" y="355.0"/><use href="#sb" x="1223.9" y="363.1"/><use href="#sb" x="1237.0" y="371.1"/><use href="#sb" x="1263.1" y="373.2"/><use href="#sb" x="1289.3" y="366.1"/><use href="#sb" x="1294.4" y="358.0"/><use href="#sb" x="1220.4" y="382.2"/><use href="#sb" x="1265.2" y="388.3"/><use href="#sb" x="1294.4" y="380.2"/><use href="#sb" x="1143.3" y="383.2"/><use href="#sb" x="1129.8" y="399.3"/><use href="#sb" x="1146.3" y="402.4"/><use href="#sb" x="1184.6" y="386.3"/><use href="#sb" x="1178.5" y="391.3"/><use href="#sb" x="1177.5" y="406.4"/><use href="#sb" x="1196.7" y="413.4"/><use href="#sb" x="1267.2" y="400.4"/><use href="#sb" x="1294.4" y="398.3"/><use href="#sb" x="1253.1" y="411.4"/><use href="#sb" x="1139.3" y="424.5"/><use href="#sb" x="1145.3" y="429.6"/><use href="#sb" x="1178.5" y="425.5"/><use href="#sb" x="1192.6" y="420.5"/><use href="#sb" x="1215.8" y="430.6"/><use href="#sb" x="1125.2" y="436.6"/><use href="#sb" x="1143.3" y="438.6"/><use href="#sb" x="1192.6" y="434.6"/><use href="#sb" x="1212.8" y="452.7"/><use href="#sb" x="1283.3" y="454.7"/><use href="#sb" x="1286.3" y="464.8"/><use href="#sb" x="1124.2" y="464.8"/><use href="#sb" x="1160.4" y="466.8"/><use href="#sb" x="1238.0" y="472.9"/><use href="#sb" x="1230.9" y="480.9"/><use href="#sb" x="1259.1" y="489.0"/><use href="#sb" x="1279.3" y="480.9"/><use href="#sb" x="1124.2" y="491.0"/><use href="#sb" x="1146.3" y="491.0"/><use href="#sb" x="1177.5" y="480.9"/><use href="#sb" x="1204.7" y="491.0"/><use href="#sb" x="1241.0" y="491.0"/><use href="#sb" x="1281.3" y="491.0"/><use href="#sb" x="1104.0" y="512.2"/><use href="#sb" x="1108.1" y="504.1"/><use href="#sb" x="1128.2" y="496.0"/><use href="#sb" x="1143.3" y="509.1"/><use href="#sb" x="1160.4" y="503.1"/><use href="#sb" x="1153.4" y="517.2"/><use href="#sb" x="1162.4" y="512.2"/><use href="#sb" x="1212.8" y="514.2"/><use href="#sb" x="1233.9" y="507.1"/><use href="#sb" x="1239.0" y="509.1"/><use href="#sb" x="1251.1" y="500.1"/><use href="#sb" x="1263.1" y="494.0"/><use href="#sb" x="1288.0" y="517.2"/><use href="#sb" x="1160.4" y="530.3"/><use href="#sb" x="1160.4" y="533.3"/><use href="#sb" x="1174.5" y="531.7"/><use href="#sb" x="1196.3" y="553.4"/><use href="#sb" x="1252.1" y="553.4"/><use href="#sb" x="1098.0" y="560.5"/><use href="#sb" x="1121.1" y="565.5"/><use href="#sb" x="1143.3" y="565.5"/><use href="#sb" x="1150.4" y="560.5"/><use href="#sb" x="1190.6" y="560.5"/><use href="#sb" x="1196.7" y="560.5"/><use href="#sb" x="1198.7" y="573.6"/><use href="#sb" x="1208.8" y="573.6"/><use href="#sb" x="1139.3" y="581.6"/><use href="#sb" x="1150.4" y="581.6"/><use href="#sb" x="1185.6" y="581.6"/><use href="#sb" x="1126.2" y="590.7"/><use href="#sb" x="1132.2" y="590.7"/><use href="#sb" x="1160.0" y="590.7"/><use href="#sb" x="1178.1" y="590.7"/><use href="#sb" x="1132.2" y="617.9"/><use href="#sb" x="1297.4" y="491.0"/><use href="#sb" x="1315.9" y="565.2"/><use href="#sb" x="1303.0" y="485.5"/><use href="#sb" x="1339.9" y="479.4"/><use href="#sb" x="1330.2" y="493.5"/><use href="#sb" x="1337.3" y="503.6"/><use href="#sb" x="1325.2" y="514.7"/><use href="#sb" x="1336.9" y="517.7"/><use href="#sb" x="1385.6" y="455.2"/><use href="#sb" x="1410.8" y="443.2"/><use href="#sb" x="1428.9" y="449.2"/><use href="#sb" x="1450.0" y="433.1"/><use href="#sb" x="1476.8" y="433.1"/><use href="#sb" x="1406.3" y="480.4"/><use href="#sb" x="1428.5" y="486.1"/><use href="#sb" x="1452.5" y="476.4"/><use href="#sb" x="1449.4" y="488.5"/><use href="#sb" x="1389.6" y="504.6"/><use href="#sb" x="1474.0" y="189.7"/><use href="#sb" x="1491.2" y="186.9"/><use href="#sb" x="1399.2" y="204.1"/><use href="#sb" x="1463.3" y="201.5"/><use href="#sb" x="1417.1" y="216.5"/><use href="#sb" x="1417.7" y="227.3"/><use href="#sb" x="1406.3" y="223.0"/><use href="#sb" x="1364.4" y="226.2"/><use href="#sb" x="1370.9" y="224.0"/><use href="#sb" x="1376.3" y="224.0"/><use href="#sb" x="1389.8" y="242.3"/><use href="#sb" x="1406.3" y="243.4"/><use href="#sb" x="1336.5" y="269.2"/><use href="#sb" x="1316.1" y="277.7"/><use href="#sb" x="1322.6" y="279.9"/><use href="#sb" x="1368.7" y="263.8"/><use href="#sb" x="1362.3" y="283.1"/><use href="#sb" x="1330.1" y="296.0"/><use href="#sb" x="1346.2" y="296.0"/><use href="#sb" x="1332.2" y="305.7"/><use href="#sb" x="1322.6" y="316.4"/><use href="#sb" x="1304.3" y="326.1"/><use href="#sb" x="1536.7" y="173.5"/><use href="#sb" x="1491.3" y="187.0"/><use href="#sb" x="1523.7" y="194.8"/><use href="#sb" x="1544.3" y="200.2"/><use href="#sb" x="1571.6" y="187.2"/><use href="#sb" x="1582.9" y="204.2"/><use href="#sb" x="1569.7" y="212.6"/><use href="#sb" x="1684.4" y="212.6"/><use href="#sb" x="1582.9" y="222.3"/><use href="#sb" x="1582.9" y="234.3"/><use href="#sb" x="1564.8" y="230.7"/><use href="#sb" x="1601.1" y="244.0"/><use href="#sb" x="1608.3" y="242.8"/><use href="#sb" x="1615.6" y="247.6"/><use href="#sb" x="1626.4" y="246.4"/><use href="#sb" x="1636.1" y="240.9"/><use href="#sb" x="1654.2" y="242.3"/><use href="#sb" x="1668.2" y="258.5"/><use href="#sb" x="1608.3" y="253.7"/><use href="#sb" x="1618.0" y="257.3"/><use href="#sb" x="1635.4" y="263.3"/><use href="#sb" x="1630.0" y="271.8"/><use href="#sb" x="1615.6" y="264.5"/><use href="#sb" x="1602.3" y="265.7"/><use href="#sb" x="1596.2" y="265.7"/><use href="#sb" x="1578.1" y="265.7"/><use href="#sb" x="1593.8" y="285.1"/><use href="#sb" x="1584.2" y="289.9"/><use href="#sb" x="1610.7" y="291.1"/><use href="#sb" x="1603.5" y="282.7"/><use href="#sb" x="1582.9" y="305.6"/><use href="#sb" x="1582.9" y="318.9"/><use href="#sb" x="1582.9" y="327.3"/><use href="#sb" x="1576.9" y="333.4"/><use href="#sb" x="1628.8" y="316.5"/><use href="#sb" x="1656.6" y="318.9"/><use href="#sb" x="1628.8" y="333.4"/><use href="#sb" x="1610.7" y="331.4"/><use href="#sb" x="1569.2" y="316.9"/><use href="#sb" x="1566.0" y="327.8"/><use href="#sb" x="1572.2" y="187.0"/><use href="#sb" x="1576.9" y="279.9"/><use href="#sb" x="1582.8" y="288.1"/><use href="#sb" x="1588.7" y="265.7"/><use href="#sb" x="1498.8" y="348.5"/><use href="#sb" x="1530.7" y="349.4"/><use href="#sb" x="1516.6" y="360.7"/><use href="#sb" x="1530.3" y="361.6"/><use href="#sb" x="1487.5" y="360.7"/><use href="#sb" x="1481.0" y="373.8"/><use href="#sb" x="1512.3" y="373.8"/><use href="#sb" x="1544.3" y="379.5"/><use href="#sb" x="1505.4" y="390.3"/><use href="#sb" x="1534.5" y="394.5"/><use href="#sb" x="1587.1" y="367.2"/><use href="#sb" x="1496.0" y="425.5"/><use href="#sb" x="1512.3" y="421.2"/><use href="#sb" x="1516.6" y="433.4"/><use href="#sb" x="1481.0" y="433.0"/><use href="#sb" x="1512.2" y="157.7"/><use href="#sb" x="1548.4" y="148.1"/><use href="#sr" x="1373.5" y="387.7"/><use href="#sr" x="1387.4" y="368.9"/><use href="#sr" x="1345.3" y="379.4"/><use href="#sr" x="1391.8" y="412.6"/><use href="#sr" x="1502.1" y="344.4"/><use href="#sr" x="1470.0" y="313.9"/><use href="#sr" x="1325.3" y="391.6"/><use href="#sr" x="1354.1" y="418.0"/><use href="#sr" x="1460.8" y="355.1"/><use href="#sr" x="1455.9" y="376.7"/><use href="#sr" x="1453.2" y="373.7"/><use href="#sr" x="1320.0" y="371.8"/><use href="#sr" x="1424.7" y="421.8"/><use href="#sr" x="1384.7" y="407.0"/><use href="#sr" x="1450.1" y="401.7"/><use href="#sr" x="1300.9" y="416.5"/><use href="#sr" x="1404.4" y="397.3"/><use href="#sr" x="1341.9" y="440.9"/><use href="#sr" x="1409.6" y="369.4"/><use href="#sr" x="1383.7" y="444.3"/><use href="#sr" x="1350.5" y="429.2"/><use href="#sr" x="1456.4" y="375.4"/><use href="#sr" x="1376.0" y="373.6"/><use href="#sr" x="1396.5" y="354.5"/><use href="#sr" x="1436.6" y="369.5"/><use href="#sr" x="1361.4" y="426.3"/><use href="#sr" x="1397.0" y="379.3"/><use href="#sr" x="1378.4" y="446.0"/><use href="#sr" x="1384.3" y="410.4"/><use href="#sr" x="1464.1" y="351.5"/><use href="#sr" x="1444.1" y="410.0"/><use href="#sr" x="1392.3" y="407.6"/><use href="#sr" x="1343.1" y="425.9"/><use href="#sr" x="1370.3" y="416.7"/><use href="#sr" x="1470.1" y="345.7"/><use href="#sr" x="1434.2" y="339.7"/><use href="#sr" x="1336.2" y="448.3"/><use href="#sr" x="1304.0" y="396.5"/><use href="#sr" x="1381.9" y="397.7"/><use href="#sr" x="1465.5" y="395.9"/><use href="#sr" x="1349.1" y="415.7"/><use href="#sr" x="1421.9" y="390.5"/><use href="#sr" x="1473.5" y="356.0"/><use href="#sr" x="1354.5" y="394.0"/><use href="#sr" x="1414.2" y="382.7"/><use href="#sr" x="1329.3" y="403.2"/><use href="#sr" x="1357.9" y="431.5"/><use href="#sr" x="1432.4" y="377.3"/><use href="#sr" x="1210.3" y="516.1"/><use href="#sr" x="1170.2" y="491.4"/><use href="#sr" x="1233.0" y="482.7"/><use href="#sr" x="1258.3" y="443.3"/><use href="#sr" x="1155.6" y="440.5"/><use href="#sr" x="1204.4" y="398.1"/><use href="#sr" x="1174.3" y="478.5"/><use href="#sr" x="1132.5" y="434.5"/><use href="#sr" x="1151.2" y="417.6"/><use href="#sr" x="1251.9" y="488.9"/><use href="#sr" x="1153.9" y="457.1"/><use href="#sr" x="1256.5" y="504.2"/><use href="#sr" x="1144.1" y="484.3"/><use href="#sr" x="1234.4" y="437.8"/><use href="#sr" x="1192.7" y="434.8"/><use href="#sr" x="826.4" y="618.0"/><use href="#sr" x="895.9" y="640.5"/><use href="#sr" x="948.6" y="618.9"/><use href="#sr" x="1016.7" y="603.5"/><use href="#sr" x="895.9" y="591.6"/><use href="#sr" x="966.7" y="591.6"/><use href="#sr" x="984.5" y="591.6"/><use href="#sr" x="1054.3" y="591.6"/><use href="#sr" x="1083.5" y="591.6"/><use href="#sr" x="1090.5" y="591.6"/><use href="#sr" x="1054.3" y="573.6"/><use href="#sr" x="1095.6" y="573.6"/><use href="#sr" x="1090.5" y="566.4"/><use href="#sr" x="720.5" y="457.9"/><use href="#sr" x="998.7" y="399.7"/><use href="#sr" x="1051.5" y="449.4"/><use href="#sr" x="1072.8" y="449.4"/><use href="#sr" x="1058.5" y="461.5"/><use href="#sr" x="1086.3" y="409.1"/><use href="#sr" x="1097.4" y="481.6"/><use href="#sr" x="1054.7" y="481.6"/><use href="#sr" x="1019.8" y="507.4"/><use href="#sr" x="1090.3" y="516.9"/><use href="#sr" x="1290.7" y="248.9"/><use href="#sr" x="1290.3" y="342.0"/><use href="#sr" x="1249.0" y="370.1"/><use href="#sr" x="1279.3" y="371.1"/><use href="#sr" x="1251.5" y="381.2"/><use href="#sr" x="1283.3" y="376.2"/><use href="#sr" x="1157.4" y="383.2"/><use href="#sr" x="1174.1" y="396.7"/><use href="#sr" x="1196.3" y="394.3"/><use href="#sr" x="1189.6" y="405.4"/><use href="#sr" x="1212.8" y="404.4"/><use href="#sr" x="1222.9" y="408.4"/><use href="#sr" x="1256.1" y="393.3"/><use href="#sr" x="1249.0" y="396.3"/><use href="#sr" x="1284.3" y="398.3"/><use href="#sr" x="1118.5" y="421.5"/><use href="#sr" x="1160.4" y="430.6"/><use href="#sr" x="1223.9" y="417.5"/><use href="#sr" x="1238.0" y="416.5"/><use href="#sr" x="1206.7" y="431.6"/><use href="#sr" x="1226.9" y="428.5"/><use href="#sr" x="1245.0" y="423.5"/><use href="#sr" x="1252.1" y="430.6"/><use href="#sr" x="1266.2" y="421.5"/><use href="#sr" x="1266.2" y="432.6"/><use href="#sr" x="1280.3" y="417.5"/><use href="#sr" x="1280.3" y="426.5"/><use href="#sr" x="1291.3" y="430.6"/><use href="#sr" x="1295.4" y="420.5"/><use href="#sr" x="1111.1" y="448.7"/><use href="#sr" x="1132.2" y="448.7"/><use href="#sr" x="1132.2" y="454.7"/><use href="#sr" x="1150.4" y="452.7"/><use href="#sr" x="1174.5" y="440.6"/><use href="#sr" x="1178.5" y="444.7"/><use href="#sr" x="1187.6" y="444.7"/><use href="#sr" x="1204.7" y="443.7"/><use href="#sr" x="1230.9" y="446.7"/><use href="#sr" x="1234.9" y="440.6"/><use href="#sr" x="1252.1" y="440.6"/><use href="#sr" x="1266.2" y="441.6"/><use href="#sr" x="1242.0" y="456.7"/><use href="#sr" x="1255.1" y="452.7"/><use href="#sr" x="1271.2" y="458.8"/><use href="#sr" x="1290.3" y="446.7"/><use href="#sr" x="1296.4" y="455.7"/><use href="#sr" x="1281.3" y="468.8"/><use href="#sr" x="1295.4" y="470.8"/><use href="#sr" x="1104.0" y="468.8"/><use href="#sr" x="1134.2" y="464.8"/><use href="#sr" x="1143.3" y="471.9"/><use href="#sr" x="1178.5" y="456.7"/><use href="#sr" x="1180.6" y="470.8"/><use href="#sr" x="1156.4" y="474.9"/><use href="#sr" x="1198.7" y="475.9"/><use href="#sr" x="1210.8" y="476.9"/><use href="#sr" x="1216.8" y="464.8"/><use href="#sr" x="1230.9" y="462.8"/><use href="#sr" x="1263.1" y="478.9"/><use href="#sr" x="1249.0" y="486.0"/><use href="#sr" x="1293.4" y="478.9"/><use href="#sr" x="1106.0" y="493.0"/><use href="#sr" x="1129.2" y="483.9"/><use href="#sr" x="1160.4" y="487.0"/><use href="#sr" x="1178.5" y="489.0"/><use href="#sr" x="1191.6" y="489.0"/><use href="#sr" x="1212.8" y="489.0"/><use href="#sr" x="1226.9" y="489.0"/><use href="#sr" x="1289.3" y="492.0"/><use href="#sr" x="1125.2" y="509.1"/><use href="#sr" x="1150.4" y="507.1"/><use href="#sr" x="1177.5" y="508.1"/><use href="#sr" x="1177.5" y="496.0"/><use href="#sr" x="1188.6" y="502.1"/><use href="#sr" x="1189.6" y="517.2"/><use href="#sr" x="1195.7" y="511.1"/><use href="#sr" x="1206.7" y="500.1"/><use href="#sr" x="1209.8" y="509.1"/><use href="#sr" x="1233.9" y="508.1"/><use href="#sr" x="1263.1" y="504.1"/><use href="#sr" x="1283.3" y="517.2"/><use href="#sr" x="1111.7" y="532.3"/><use href="#sr" x="1111.7" y="543.4"/><use href="#sr" x="1143.3" y="548.8"/><use href="#sr" x="1263.1" y="539.3"/><use href="#sr" x="1125.2" y="559.5"/><use href="#sr" x="1132.2" y="565.5"/><use href="#sr" x="1174.1" y="560.5"/><use href="#sr" x="1226.9" y="573.6"/><use href="#sr" x="1212.8" y="581.6"/><use href="#sr" x="1107.0" y="590.7"/><use href="#sr" x="1117.1" y="590.7"/><use href="#sr" x="1303.0" y="446.2"/><use href="#sr" x="1318.1" y="437.1"/><use href="#sr" x="1332.2" y="439.1"/><use href="#sr" x="1332.2" y="450.2"/><use href="#sr" x="1339.3" y="449.2"/><use href="#sr" x="1316.1" y="460.3"/><use href="#sr" x="1304.0" y="466.3"/><use href="#sr" x="1319.1" y="468.3"/><use href="#sr" x="1302.0" y="476.4"/><use href="#sr" x="1339.9" y="467.3"/><use href="#sr" x="1316.1" y="499.6"/><use href="#sr" x="1327.2" y="499.6"/><use href="#sr" x="1357.4" y="442.2"/><use href="#sr" x="1371.5" y="442.2"/><use href="#sr" x="1371.5" y="452.2"/><use href="#sr" x="1380.6" y="443.2"/><use href="#sr" x="1399.7" y="449.2"/><use href="#sr" x="1421.9" y="457.3"/><use href="#sr" x="1423.9" y="439.1"/><use href="#sr" x="1442.6" y="443.2"/><use href="#sr" x="1488.3" y="437.1"/><use href="#sr" x="1371.1" y="342.0"/><use href="#sr" x="1424.2" y="342.0"/><use href="#sr" x="1442.3" y="342.0"/><use href="#sr" x="1481.2" y="348.1"/><use href="#sr" x="1473.2" y="352.8"/><use href="#sr" x="1304.0" y="361.5"/><use href="#sr" x="1318.8" y="371.5"/><use href="#sr" x="1389.3" y="356.8"/><use href="#sr" x="1371.8" y="360.8"/><use href="#sr" x="1406.0" y="362.1"/><use href="#sr" x="1415.4" y="359.5"/><use href="#sr" x="1428.2" y="360.1"/><use href="#sr" x="1445.6" y="361.5"/><use href="#sr" x="1459.7" y="364.8"/><use href="#sr" x="1445.0" y="368.2"/><use href="#sr" x="1353.7" y="370.2"/><use href="#sr" x="1341.6" y="370.2"/><use href="#sr" x="1316.1" y="383.0"/><use href="#sr" x="1326.8" y="383.0"/><use href="#sr" x="1351.0" y="382.3"/><use href="#sr" x="1371.8" y="374.2"/><use href="#sr" x="1391.9" y="385.6"/><use href="#sr" x="1403.4" y="381.6"/><use href="#sr" x="1417.4" y="379.6"/><use href="#sr" x="1435.6" y="375.6"/><use href="#sr" x="1447.7" y="384.3"/><use href="#sr" x="1459.1" y="382.3"/><use href="#sr" x="1470.5" y="377.6"/><use href="#sr" x="1494.6" y="379.6"/><use href="#sr" x="1351.0" y="395.0"/><use href="#sr" x="1336.9" y="397.0"/><use href="#sr" x="1371.8" y="396.4"/><use href="#sr" x="1406.7" y="394.4"/><use href="#sr" x="1428.2" y="397.0"/><use href="#sr" x="1446.3" y="391.7"/><use href="#sr" x="1463.1" y="395.0"/><use href="#sr" x="1449.0" y="402.4"/><use href="#sr" x="1325.5" y="405.1"/><use href="#sr" x="1385.9" y="405.1"/><use href="#sr" x="1404.7" y="404.4"/><use href="#sr" x="1416.8" y="402.4"/><use href="#sr" x="1318.8" y="417.2"/><use href="#sr" x="1357.7" y="413.2"/><use href="#sr" x="1310.7" y="412.5"/><use href="#sr" x="1391.3" y="413.2"/><use href="#sr" x="1403.4" y="417.2"/><use href="#sr" x="1383.2" y="425.2"/><use href="#sr" x="1373.8" y="425.9"/><use href="#sr" x="1428.2" y="424.6"/><use href="#sr" x="1490.6" y="421.2"/><use href="#sr" x="1302.7" y="421.9"/><use href="#sr" x="1357.7" y="431.3"/><use href="#sr" x="1318.8" y="434.0"/><use href="#sr" x="1332.2" y="435.3"/><use href="#sr" x="1305.4" y="434.0"/><use href="#sr" x="1383.2" y="434.0"/><use href="#sr" x="1420.8" y="436.6"/><use href="#sr" x="1487.9" y="435.3"/><use href="#sr" x="1330.1" y="329.3"/><use href="#sr" x="1370.9" y="335.7"/><use href="#sr" x="1435.3" y="265.9"/><use href="#sr" x="1428.5" y="289.6"/><use href="#sr" x="1477.2" y="285.3"/><use href="#sr" x="1465.4" y="307.8"/><use href="#sr" x="1477.2" y="304.6"/><use href="#sr" x="1475.1" y="316.4"/><use href="#sr" x="1435.3" y="313.2"/><use href="#sr" x="1442.9" y="312.1"/><use href="#sr" x="1441.8" y="328.2"/><use href="#sr" x="1426.7" y="330.4"/><use href="#sr" x="1477.2" y="331.5"/><use href="#sr" x="1498.7" y="250.9"/><use href="#sr" x="1541.4" y="270.4"/><use href="#sr" x="1555.6" y="244.4"/><use href="#sr" x="1502.4" y="251.5"/><use href="#sr" x="1504.8" y="276.3"/><use href="#sr" x="1534.3" y="330.7"/><use href="#sr" x="1511.9" y="329.5"/><use href="#sr" x="1515.4" y="320.0"/><use href="#sr" x="1522.5" y="341.3"/><use href="#sr" x="1635.4" y="270.6"/><use href="#sr" x="1610.7" y="339.4"/><use href="#sr" x="1563.6" y="288.7"/><use href="#sr" x="1563.6" y="299.6"/><use href="#sr" x="1565.1" y="288.1"/><use href="#sr" x="1561.5" y="300.0"/><use href="#sr" x="1523.2" y="343.8"/><use href="#sr" x="1483.8" y="347.5"/><use href="#sr" x="1505.4" y="361.6"/><use href="#sr" x="1495.0" y="379.5"/><use href="#sr" x="1569.2" y="417.0"/><use href="#sr" x="1491.3" y="421.2"/><use href="#sr" x="1488.5" y="437.7"/>
<line x1="696.20" y1="677.80" x2="703.80" y2="677.80" stroke="#111" stroke-width="2"/>
<text x="659.30" y="685.30" font-size="21.5" letter-spacing="-0.74">0.1</text>
<line x1="696.20" y1="554.70" x2="703.80" y2="554.70" stroke="#111" stroke-width="2"/>
<text x="680.20" y="562.20" font-size="21.5">1</text>
<line x1="696.20" y1="431.60" x2="703.80" y2="431.60" stroke="#111" stroke-width="2"/>
<text x="671.30" y="439.10" font-size="21.5" letter-spacing="-1.90">10</text>
<line x1="696.20" y1="308.50" x2="703.80" y2="308.50" stroke="#111" stroke-width="2"/>
<text x="659.00" y="316.00" font-size="21.5" letter-spacing="-0.98">100</text>
<line x1="696.20" y1="185.40" x2="703.80" y2="185.40" stroke="#111" stroke-width="2"/>
<text x="650.70" y="192.90" font-size="21.5" letter-spacing="-0.03">1000</text>
<line x1="696.20" y1="62.30" x2="703.80" y2="62.30" stroke="#111" stroke-width="2"/>
<text x="641.20" y="69.80" font-size="21.5" letter-spacing="-0.16">10000</text>
<line x1="703.80" y1="677.80" x2="703.80" y2="684.80" stroke="#111" stroke-width="2"/>
<text x="699.35" y="704.00" font-size="21">5</text>
<line x1="879.88" y1="677.80" x2="879.88" y2="684.80" stroke="#111" stroke-width="2"/>
<text x="870.18" y="704.00" font-size="21">10</text>
<line x1="1055.97" y1="677.80" x2="1055.97" y2="684.80" stroke="#111" stroke-width="2"/>
<text x="1046.27" y="704.00" font-size="21">15</text>
<line x1="1232.05" y1="677.80" x2="1232.05" y2="684.80" stroke="#111" stroke-width="2"/>
<text x="1222.35" y="704.00" font-size="21">20</text>
<line x1="1408.13" y1="677.80" x2="1408.13" y2="684.80" stroke="#111" stroke-width="2"/>
<text x="1398.43" y="704.00" font-size="21">25</text>
<line x1="1584.22" y1="677.80" x2="1584.22" y2="684.80" stroke="#111" stroke-width="2"/>
<text x="1574.52" y="704.00" font-size="21">30</text>
<line x1="1760.30" y1="677.80" x2="1760.30" y2="684.80" stroke="#111" stroke-width="2"/>
<text x="1749.10" y="706.00" font-size="21">35</text>
<text x="1172.50" y="736.70" font-size="24" font-weight="bold" letter-spacing="1.44">Porosity(%)</text>
<text x="0" y="0" font-size="24" font-weight="bold" letter-spacing="1.41" transform="translate(648.10,448.60) rotate(-90)">Permeability(mD)</text>
<rect x="710.30" y="70.10" width="52.40" height="29.50" fill="#fff" stroke="#3a3535" stroke-width="1.4"/>
<text x="729.10" y="92.00" font-size="25">C</text>
<rect x="1632.20" y="69.30" width="101.10" height="33.60" fill="#fff" stroke="#3a3535" stroke-width="1.4"/>
<text x="1646.09" y="92.60" font-size="21.4" font-style="italic" letter-spacing="0.69">N=1343</text>
<circle cx="720.92" cy="652.06" r="2.4" fill="#d2000f"/><circle cx="728.18" cy="649.25" r="2.4" fill="#d2000f"/><circle cx="735.44" cy="646.44" r="2.4" fill="#d2000f"/><circle cx="742.70" cy="643.63" r="2.4" fill="#d2000f"/><circle cx="749.97" cy="640.82" r="2.4" fill="#d2000f"/><circle cx="757.23" cy="638.01" r="2.4" fill="#d2000f"/><circle cx="764.49" cy="635.20" r="2.4" fill="#d2000f"/><circle cx="771.75" cy="632.39" r="2.4" fill="#d2000f"/><circle cx="779.01" cy="629.58" r="2.4" fill="#d2000f"/><circle cx="786.28" cy="626.77" r="2.4" fill="#d2000f"/><circle cx="793.54" cy="623.96" r="2.4" fill="#d2000f"/><circle cx="800.80" cy="621.16" r="2.4" fill="#d2000f"/><circle cx="808.06" cy="618.35" r="2.4" fill="#d2000f"/><circle cx="815.33" cy="615.54" r="2.4" fill="#d2000f"/><circle cx="822.59" cy="612.73" r="2.4" fill="#d2000f"/><circle cx="829.85" cy="609.92" r="2.4" fill="#d2000f"/><circle cx="837.11" cy="607.11" r="2.4" fill="#d2000f"/><circle cx="844.38" cy="604.30" r="2.4" fill="#d2000f"/><circle cx="851.64" cy="601.49" r="2.4" fill="#d2000f"/><circle cx="858.90" cy="598.68" r="2.4" fill="#d2000f"/><circle cx="866.16" cy="595.87" r="2.4" fill="#d2000f"/><circle cx="873.43" cy="593.06" r="2.4" fill="#d2000f"/><circle cx="880.69" cy="590.25" r="2.4" fill="#d2000f"/><circle cx="887.95" cy="587.45" r="2.4" fill="#d2000f"/><circle cx="895.21" cy="584.64" r="2.4" fill="#d2000f"/><circle cx="902.48" cy="581.83" r="2.4" fill="#d2000f"/><circle cx="909.74" cy="579.02" r="2.4" fill="#d2000f"/><circle cx="917.00" cy="576.21" r="2.4" fill="#d2000f"/><circle cx="924.26" cy="573.40" r="2.4" fill="#d2000f"/><circle cx="931.53" cy="570.59" r="2.4" fill="#d2000f"/><circle cx="938.79" cy="567.78" r="2.4" fill="#d2000f"/><circle cx="946.05" cy="564.97" r="2.4" fill="#d2000f"/><circle cx="953.31" cy="562.16" r="2.4" fill="#d2000f"/><circle cx="960.58" cy="559.35" r="2.4" fill="#d2000f"/><circle cx="967.84" cy="556.54" r="2.4" fill="#d2000f"/><circle cx="975.10" cy="553.74" r="2.4" fill="#d2000f"/><circle cx="982.36" cy="550.93" r="2.4" fill="#d2000f"/><circle cx="989.63" cy="548.12" r="2.4" fill="#d2000f"/><circle cx="996.89" cy="545.31" r="2.4" fill="#d2000f"/><circle cx="1004.15" cy="542.50" r="2.4" fill="#d2000f"/><circle cx="1011.41" cy="539.69" r="2.4" fill="#d2000f"/><circle cx="1018.68" cy="536.88" r="2.4" fill="#d2000f"/><circle cx="1025.94" cy="534.07" r="2.4" fill="#d2000f"/><circle cx="1033.20" cy="531.26" r="2.4" fill="#d2000f"/><circle cx="1040.46" cy="528.45" r="2.4" fill="#d2000f"/><circle cx="1047.73" cy="525.64" r="2.4" fill="#d2000f"/><circle cx="1054.99" cy="522.83" r="2.4" fill="#d2000f"/><circle cx="1062.25" cy="520.03" r="2.4" fill="#d2000f"/><circle cx="1069.51" cy="517.22" r="2.4" fill="#d2000f"/><circle cx="1076.78" cy="514.41" r="2.4" fill="#d2000f"/><circle cx="1084.04" cy="511.60" r="2.4" fill="#d2000f"/><circle cx="1091.30" cy="508.79" r="2.4" fill="#d2000f"/><circle cx="1098.56" cy="505.98" r="2.4" fill="#d2000f"/><circle cx="1105.83" cy="503.17" r="2.4" fill="#d2000f"/><circle cx="1113.09" cy="500.36" r="2.4" fill="#d2000f"/><circle cx="1120.35" cy="497.55" r="2.4" fill="#d2000f"/><circle cx="1127.61" cy="494.74" r="2.4" fill="#d2000f"/><circle cx="1134.88" cy="491.93" r="2.4" fill="#d2000f"/><circle cx="1142.14" cy="489.12" r="2.4" fill="#d2000f"/><circle cx="1149.40" cy="486.32" r="2.4" fill="#d2000f"/><circle cx="1156.66" cy="483.51" r="2.4" fill="#d2000f"/><circle cx="1163.93" cy="480.70" r="2.4" fill="#d2000f"/><circle cx="1171.19" cy="477.89" r="2.4" fill="#d2000f"/><circle cx="1178.45" cy="475.08" r="2.4" fill="#d2000f"/><circle cx="1185.71" cy="472.27" r="2.4" fill="#d2000f"/><circle cx="1192.98" cy="469.46" r="2.4" fill="#d2000f"/><circle cx="1200.24" cy="466.65" r="2.4" fill="#d2000f"/><circle cx="1207.50" cy="463.84" r="2.4" fill="#d2000f"/><circle cx="1214.76" cy="461.03" r="2.4" fill="#d2000f"/><circle cx="1222.02" cy="458.22" r="2.4" fill="#d2000f"/><circle cx="1229.29" cy="455.41" r="2.4" fill="#d2000f"/><circle cx="1236.55" cy="452.61" r="2.4" fill="#d2000f"/><circle cx="1243.81" cy="449.80" r="2.4" fill="#d2000f"/><circle cx="1251.07" cy="446.99" r="2.4" fill="#d2000f"/><circle cx="1258.34" cy="444.18" r="2.4" fill="#d2000f"/><circle cx="1265.60" cy="441.37" r="2.4" fill="#d2000f"/><circle cx="1272.86" cy="438.56" r="2.4" fill="#d2000f"/><circle cx="1280.12" cy="435.75" r="2.4" fill="#d2000f"/><circle cx="1287.39" cy="432.94" r="2.4" fill="#d2000f"/><circle cx="1294.65" cy="430.13" r="2.4" fill="#d2000f"/><circle cx="1301.91" cy="427.32" r="2.4" fill="#d2000f"/><circle cx="1309.17" cy="424.51" r="2.4" fill="#d2000f"/><circle cx="1316.44" cy="421.70" r="2.4" fill="#d2000f"/><circle cx="1323.70" cy="418.90" r="2.4" fill="#d2000f"/><circle cx="1330.96" cy="416.09" r="2.4" fill="#d2000f"/><circle cx="1338.22" cy="413.28" r="2.4" fill="#d2000f"/><circle cx="1345.49" cy="410.47" r="2.4" fill="#d2000f"/><circle cx="1352.75" cy="407.66" r="2.4" fill="#d2000f"/><circle cx="1360.01" cy="404.85" r="2.4" fill="#d2000f"/><circle cx="1367.27" cy="402.04" r="2.4" fill="#d2000f"/><circle cx="1374.54" cy="399.23" r="2.4" fill="#d2000f"/><circle cx="1381.80" cy="396.42" r="2.4" fill="#d2000f"/><circle cx="1389.06" cy="393.61" r="2.4" fill="#d2000f"/><circle cx="1396.32" cy="390.80" r="2.4" fill="#d2000f"/><circle cx="1403.59" cy="387.99" r="2.4" fill="#d2000f"/><circle cx="1410.85" cy="385.19" r="2.4" fill="#d2000f"/><circle cx="1418.11" cy="382.38" r="2.4" fill="#d2000f"/><circle cx="1425.37" cy="379.57" r="2.4" fill="#d2000f"/><circle cx="1432.64" cy="376.76" r="2.4" fill="#d2000f"/><circle cx="1439.90" cy="373.95" r="2.4" fill="#d2000f"/><circle cx="1447.16" cy="371.14" r="2.4" fill="#d2000f"/><circle cx="1454.42" cy="368.33" r="2.4" fill="#d2000f"/><circle cx="1461.69" cy="365.52" r="2.4" fill="#d2000f"/><circle cx="1468.95" cy="362.71" r="2.4" fill="#d2000f"/><circle cx="1476.21" cy="359.90" r="2.4" fill="#d2000f"/><circle cx="1483.47" cy="357.09" r="2.4" fill="#d2000f"/><circle cx="1490.74" cy="354.28" r="2.4" fill="#d2000f"/><circle cx="1498.00" cy="351.48" r="2.4" fill="#d2000f"/><circle cx="1505.26" cy="348.67" r="2.4" fill="#d2000f"/><circle cx="1512.52" cy="345.86" r="2.4" fill="#d2000f"/><circle cx="1519.79" cy="343.05" r="2.4" fill="#d2000f"/><circle cx="1527.05" cy="340.24" r="2.4" fill="#d2000f"/><circle cx="1534.31" cy="337.43" r="2.4" fill="#d2000f"/><circle cx="1541.57" cy="334.62" r="2.4" fill="#d2000f"/><circle cx="1548.84" cy="331.81" r="2.4" fill="#d2000f"/><circle cx="1556.10" cy="329.00" r="2.4" fill="#d2000f"/><circle cx="1563.36" cy="326.19" r="2.4" fill="#d2000f"/><circle cx="1570.62" cy="323.38" r="2.4" fill="#d2000f"/><circle cx="1577.89" cy="320.57" r="2.4" fill="#d2000f"/><circle cx="1585.15" cy="317.77" r="2.4" fill="#d2000f"/><circle cx="1592.41" cy="314.96" r="2.4" fill="#d2000f"/><circle cx="1599.67" cy="312.15" r="2.4" fill="#d2000f"/><circle cx="1606.94" cy="309.34" r="2.4" fill="#d2000f"/><circle cx="1614.20" cy="306.53" r="2.4" fill="#d2000f"/><circle cx="1621.46" cy="303.72" r="2.4" fill="#d2000f"/><circle cx="1628.72" cy="300.91" r="2.4" fill="#d2000f"/><circle cx="1635.99" cy="298.10" r="2.4" fill="#d2000f"/><circle cx="797.35" cy="679.89" r="2.4" fill="#2147a2"/><circle cx="804.14" cy="676.04" r="2.4" fill="#2147a2"/><circle cx="810.93" cy="672.19" r="2.4" fill="#2147a2"/><circle cx="817.71" cy="668.34" r="2.4" fill="#2147a2"/><circle cx="824.50" cy="664.49" r="2.4" fill="#2147a2"/><circle cx="831.29" cy="660.64" r="2.4" fill="#2147a2"/><circle cx="838.08" cy="656.79" r="2.4" fill="#2147a2"/><circle cx="844.86" cy="652.94" r="2.4" fill="#2147a2"/><circle cx="851.65" cy="649.09" r="2.4" fill="#2147a2"/><circle cx="858.44" cy="645.24" r="2.4" fill="#2147a2"/><circle cx="865.22" cy="641.39" r="2.4" fill="#2147a2"/><circle cx="872.01" cy="637.54" r="2.4" fill="#2147a2"/><circle cx="878.80" cy="633.69" r="2.4" fill="#2147a2"/><circle cx="885.58" cy="629.84" r="2.4" fill="#2147a2"/><circle cx="892.37" cy="625.99" r="2.4" fill="#2147a2"/><circle cx="899.16" cy="622.14" r="2.4" fill="#2147a2"/><circle cx="905.94" cy="618.29" r="2.4" fill="#2147a2"/><circle cx="912.73" cy="614.44" r="2.4" fill="#2147a2"/><circle cx="919.52" cy="610.59" r="2.4" fill="#2147a2"/><circle cx="926.31" cy="606.74" r="2.4" fill="#2147a2"/><circle cx="933.09" cy="602.89" r="2.4" fill="#2147a2"/><circle cx="939.88" cy="599.04" r="2.4" fill="#2147a2"/><circle cx="946.67" cy="595.19" r="2.4" fill="#2147a2"/><circle cx="953.45" cy="591.34" r="2.4" fill="#2147a2"/><circle cx="960.24" cy="587.49" r="2.4" fill="#2147a2"/><circle cx="967.03" cy="583.64" r="2.4" fill="#2147a2"/><circle cx="973.81" cy="579.79" r="2.4" fill="#2147a2"/><circle cx="980.60" cy="575.94" r="2.4" fill="#2147a2"/><circle cx="987.39" cy="572.09" r="2.4" fill="#2147a2"/><circle cx="994.17" cy="568.24" r="2.4" fill="#2147a2"/><circle cx="1000.96" cy="564.39" r="2.4" fill="#2147a2"/><circle cx="1007.75" cy="560.54" r="2.4" fill="#2147a2"/><circle cx="1014.54" cy="556.69" r="2.4" fill="#2147a2"/><circle cx="1021.32" cy="552.84" r="2.4" fill="#2147a2"/><circle cx="1028.11" cy="548.99" r="2.4" fill="#2147a2"/><circle cx="1034.90" cy="545.14" r="2.4" fill="#2147a2"/><circle cx="1041.68" cy="541.29" r="2.4" fill="#2147a2"/><circle cx="1048.47" cy="537.43" r="2.4" fill="#2147a2"/><circle cx="1055.26" cy="533.58" r="2.4" fill="#2147a2"/><circle cx="1062.04" cy="529.73" r="2.4" fill="#2147a2"/><circle cx="1068.83" cy="525.88" r="2.4" fill="#2147a2"/><circle cx="1075.62" cy="522.03" r="2.4" fill="#2147a2"/><circle cx="1082.40" cy="518.18" r="2.4" fill="#2147a2"/><circle cx="1089.19" cy="514.33" r="2.4" fill="#2147a2"/><circle cx="1095.98" cy="510.48" r="2.4" fill="#2147a2"/><circle cx="1102.77" cy="506.63" r="2.4" fill="#2147a2"/><circle cx="1109.55" cy="502.78" r="2.4" fill="#2147a2"/><circle cx="1116.34" cy="498.93" r="2.4" fill="#2147a2"/><circle cx="1123.13" cy="495.08" r="2.4" fill="#2147a2"/><circle cx="1129.91" cy="491.23" r="2.4" fill="#2147a2"/><circle cx="1136.70" cy="487.38" r="2.4" fill="#2147a2"/><circle cx="1143.49" cy="483.53" r="2.4" fill="#2147a2"/><circle cx="1150.27" cy="479.68" r="2.4" fill="#2147a2"/><circle cx="1157.06" cy="475.83" r="2.4" fill="#2147a2"/><circle cx="1163.85" cy="471.98" r="2.4" fill="#2147a2"/><circle cx="1170.63" cy="468.13" r="2.4" fill="#2147a2"/><circle cx="1177.42" cy="464.28" r="2.4" fill="#2147a2"/><circle cx="1184.21" cy="460.43" r="2.4" fill="#2147a2"/><circle cx="1191.00" cy="456.58" r="2.4" fill="#2147a2"/><circle cx="1197.78" cy="452.73" r="2.4" fill="#2147a2"/><circle cx="1204.57" cy="448.88" r="2.4" fill="#2147a2"/><circle cx="1211.36" cy="445.03" r="2.4" fill="#2147a2"/><circle cx="1218.14" cy="441.18" r="2.4" fill="#2147a2"/><circle cx="1224.93" cy="437.33" r="2.4" fill="#2147a2"/><circle cx="1231.72" cy="433.48" r="2.4" fill="#2147a2"/><circle cx="1238.50" cy="429.63" r="2.4" fill="#2147a2"/><circle cx="1245.29" cy="425.78" r="2.4" fill="#2147a2"/><circle cx="1252.08" cy="421.93" r="2.4" fill="#2147a2"/><circle cx="1258.86" cy="418.08" r="2.4" fill="#2147a2"/><circle cx="1265.65" cy="414.23" r="2.4" fill="#2147a2"/><circle cx="1272.44" cy="410.38" r="2.4" fill="#2147a2"/><circle cx="1279.23" cy="406.53" r="2.4" fill="#2147a2"/><circle cx="1286.01" cy="402.68" r="2.4" fill="#2147a2"/><circle cx="1292.80" cy="398.83" r="2.4" fill="#2147a2"/><circle cx="1299.59" cy="394.98" r="2.4" fill="#2147a2"/><circle cx="1306.37" cy="391.13" r="2.4" fill="#2147a2"/><circle cx="1313.16" cy="387.27" r="2.4" fill="#2147a2"/><circle cx="1319.95" cy="383.42" r="2.4" fill="#2147a2"/><circle cx="1326.73" cy="379.57" r="2.4" fill="#2147a2"/><circle cx="1333.52" cy="375.72" r="2.4" fill="#2147a2"/><circle cx="1340.31" cy="371.87" r="2.4" fill="#2147a2"/><circle cx="1347.09" cy="368.02" r="2.4" fill="#2147a2"/><circle cx="1353.88" cy="364.17" r="2.4" fill="#2147a2"/><circle cx="1360.67" cy="360.32" r="2.4" fill="#2147a2"/><circle cx="1367.46" cy="356.47" r="2.4" fill="#2147a2"/><circle cx="1374.24" cy="352.62" r="2.4" fill="#2147a2"/><circle cx="1381.03" cy="348.77" r="2.4" fill="#2147a2"/><circle cx="1387.82" cy="344.92" r="2.4" fill="#2147a2"/><circle cx="1394.60" cy="341.07" r="2.4" fill="#2147a2"/><circle cx="1401.39" cy="337.22" r="2.4" fill="#2147a2"/><circle cx="1408.18" cy="333.37" r="2.4" fill="#2147a2"/><circle cx="1414.96" cy="329.52" r="2.4" fill="#2147a2"/><circle cx="1421.75" cy="325.67" r="2.4" fill="#2147a2"/><circle cx="1428.54" cy="321.82" r="2.4" fill="#2147a2"/><circle cx="1435.32" cy="317.97" r="2.4" fill="#2147a2"/><circle cx="1442.11" cy="314.12" r="2.4" fill="#2147a2"/><circle cx="1448.90" cy="310.27" r="2.4" fill="#2147a2"/><circle cx="1455.69" cy="306.42" r="2.4" fill="#2147a2"/><circle cx="1462.47" cy="302.57" r="2.4" fill="#2147a2"/><circle cx="1469.26" cy="298.72" r="2.4" fill="#2147a2"/><circle cx="1476.05" cy="294.87" r="2.4" fill="#2147a2"/><circle cx="1482.83" cy="291.02" r="2.4" fill="#2147a2"/><circle cx="1489.62" cy="287.17" r="2.4" fill="#2147a2"/><circle cx="1496.41" cy="283.32" r="2.4" fill="#2147a2"/><circle cx="1503.19" cy="279.47" r="2.4" fill="#2147a2"/><circle cx="1509.98" cy="275.62" r="2.4" fill="#2147a2"/><circle cx="1516.77" cy="271.77" r="2.4" fill="#2147a2"/><circle cx="1523.55" cy="267.92" r="2.4" fill="#2147a2"/><circle cx="1530.34" cy="264.07" r="2.4" fill="#2147a2"/><circle cx="1537.13" cy="260.22" r="2.4" fill="#2147a2"/><circle cx="1543.92" cy="256.37" r="2.4" fill="#2147a2"/><circle cx="1550.70" cy="252.52" r="2.4" fill="#2147a2"/><circle cx="1557.49" cy="248.67" r="2.4" fill="#2147a2"/><circle cx="1564.28" cy="244.82" r="2.4" fill="#2147a2"/><circle cx="1571.06" cy="240.96" r="2.4" fill="#2147a2"/><circle cx="1577.85" cy="237.11" r="2.4" fill="#2147a2"/><circle cx="1584.64" cy="233.26" r="2.4" fill="#2147a2"/><circle cx="1591.42" cy="229.41" r="2.4" fill="#2147a2"/><circle cx="1598.21" cy="225.56" r="2.4" fill="#2147a2"/><circle cx="1605.00" cy="221.71" r="2.4" fill="#2147a2"/><circle cx="1611.78" cy="217.86" r="2.4" fill="#2147a2"/><circle cx="1618.57" cy="214.01" r="2.4" fill="#2147a2"/><circle cx="1625.36" cy="210.16" r="2.4" fill="#2147a2"/><circle cx="1632.15" cy="206.31" r="2.4" fill="#2147a2"/><circle cx="1638.93" cy="202.46" r="2.4" fill="#2147a2"/><circle cx="1645.72" cy="198.61" r="2.4" fill="#2147a2"/><circle cx="1652.51" cy="194.76" r="2.4" fill="#2147a2"/><circle cx="1659.29" cy="190.91" r="2.4" fill="#2147a2"/><circle cx="1666.08" cy="187.06" r="2.4" fill="#2147a2"/><circle cx="1672.87" cy="183.21" r="2.4" fill="#2147a2"/><circle cx="1679.65" cy="179.36" r="2.4" fill="#2147a2"/>
<rect x="1237.00" y="117.00" width="208.60" height="70.70" fill="#fff" stroke="#3a3a3a" stroke-width="1.6"/>
<text x="1257.00" y="146.60" font-size="24" font-weight="bold" fill="#2b4fa0">y</text>
<text x="1274.30" y="146.60" font-size="24" font-weight="bold" fill="#2b4fa0">=</text>
<text x="1294.10" y="146.60" font-size="23.8" font-weight="bold" fill="#2b4fa0" letter-spacing="1.21">0.0055e</text>
<text x="1378.30" y="140.20" font-size="15.5" font-weight="bold" fill="#2b4fa0" letter-spacing="0.65">0.3737x</text>
<text x="1281.00" y="172.70" font-size="24" font-weight="bold" fill="#2b4fa0">R</text>
<text x="1299.00" y="172.70" font-size="22" font-weight="bold" fill="#2b4fa0">²</text>
<text x="1311.70" y="172.70" font-size="24" font-weight="bold" fill="#2b4fa0">=</text>
<text x="1331.50" y="172.70" font-size="23.8" font-weight="bold" fill="#2b4fa0" letter-spacing="1.00">0.73</text>
<rect x="1471.00" y="468.10" width="208.60" height="70.80" fill="#fff" stroke="#3a3a3a" stroke-width="1.6"/>
<text x="1513.10" y="497.00" font-size="24" font-weight="bold" fill="#c8001e">y</text>
<text x="1530.40" y="497.00" font-size="24" font-weight="bold" fill="#c8001e">=</text>
<text x="1550.60" y="497.00" font-size="23.8" font-weight="bold" fill="#c8001e" letter-spacing="1.11">0.04e</text>
<text x="1606.80" y="487.50" font-size="15.5" font-weight="bold" fill="#c8001e" letter-spacing="0.60">0.2548x</text>
<text x="1525.80" y="524.20" font-size="24" font-weight="bold" fill="#c8001e">R</text>
<text x="1543.80" y="524.20" font-size="22" font-weight="bold" fill="#c8001e">²</text>
<text x="1556.50" y="524.20" font-size="24" font-weight="bold" fill="#c8001e">=</text>
<text x="1577.00" y="524.20" font-size="23.8" font-weight="bold" fill="#c8001e" letter-spacing="1.00">0.59</text>
</g></svg></body></html>
